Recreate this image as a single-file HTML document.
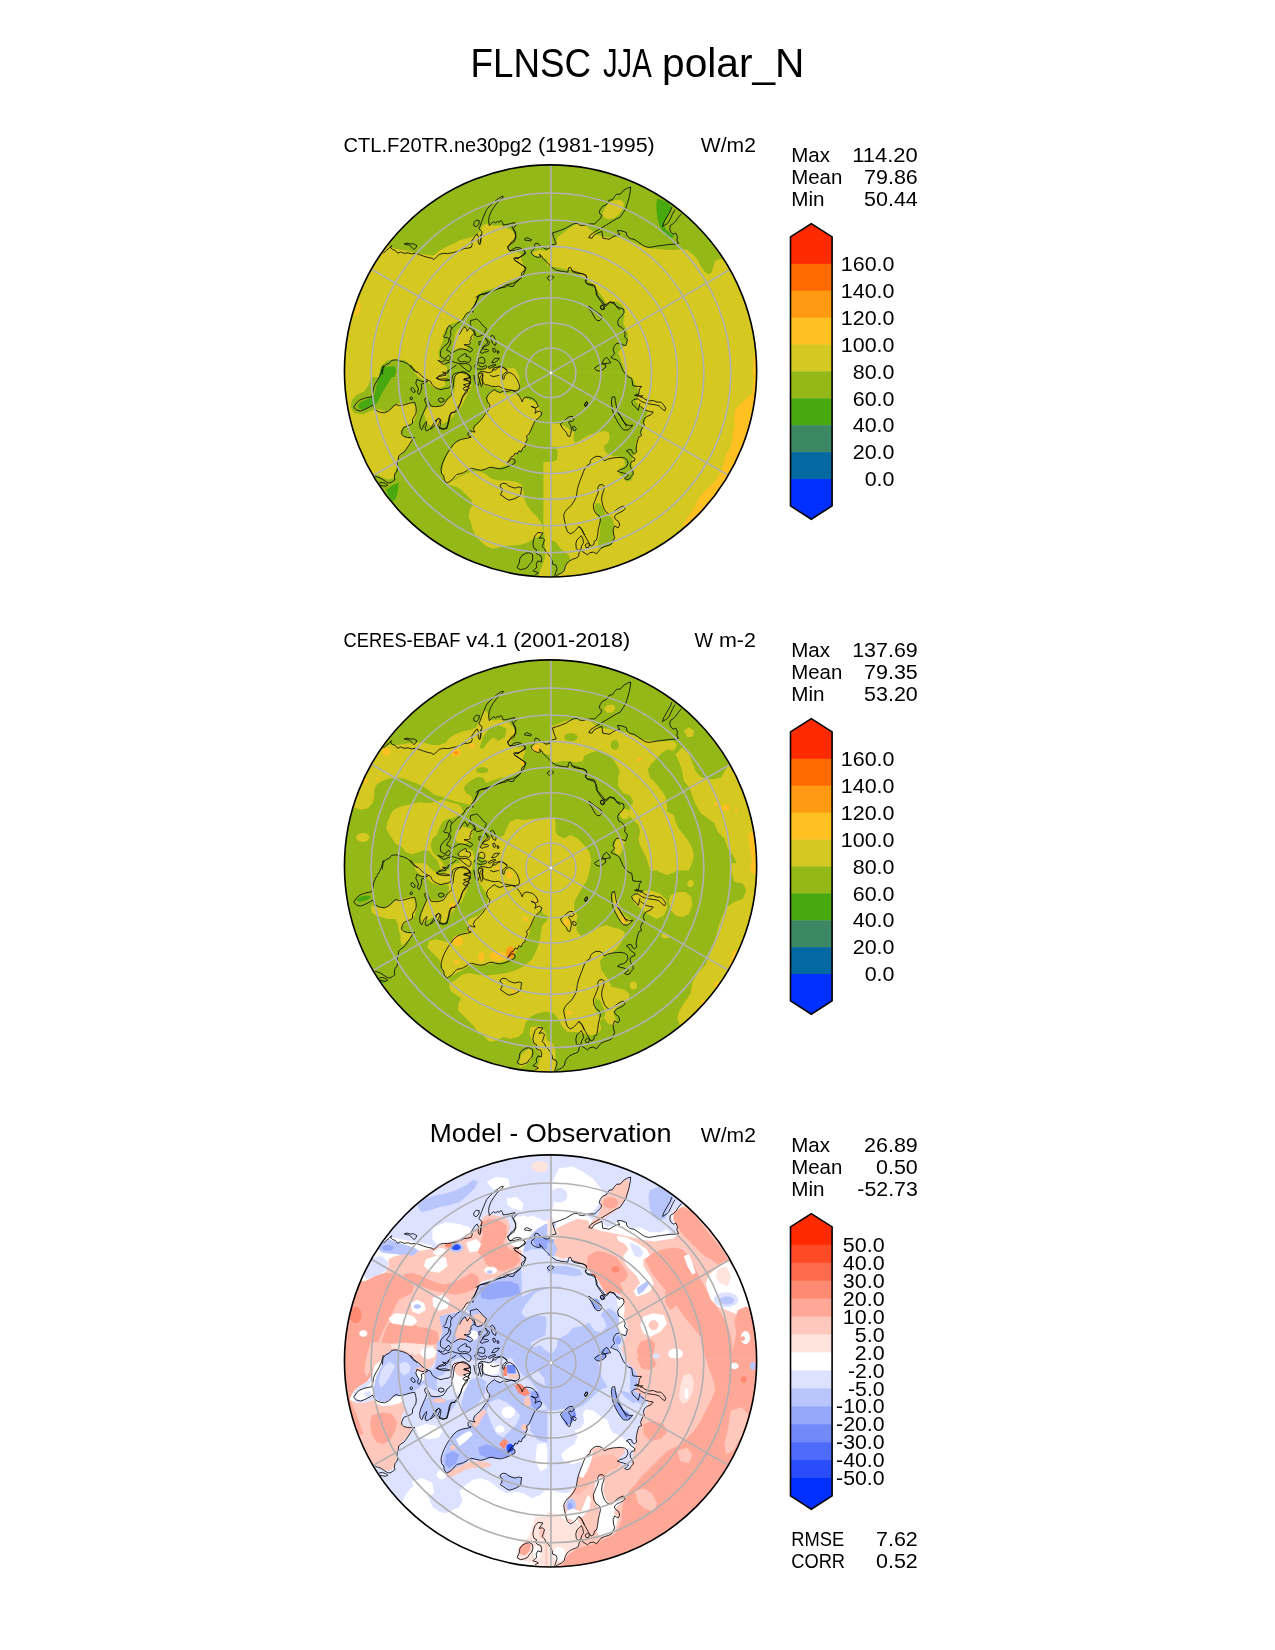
<!DOCTYPE html>
<html><head><meta charset="utf-8"><title>FLNSC JJA polar_N</title>
<style>
html,body{margin:0;padding:0;background:#fff;}
body{width:1275px;height:1650px;overflow:hidden;font-family:"Liberation Sans",sans-serif;}
svg{display:block;will-change:transform;}
svg text{font-family:"Liberation Sans",sans-serif;fill:#000;}
</style></head><body>
<svg width="1275" height="1650" viewBox="0 0 1275 1650">
<rect width="1275" height="1650" fill="#fff"/>
<defs>
<clipPath id="disc"><circle cx="550.55" cy="370.95" r="206.1"/></clipPath>

<g id="grid" fill="none" stroke="#b0b0b0" stroke-width="1.6">
<circle cx="550.95" cy="372.9" r="179.91"/>
<circle cx="550.95" cy="372.9" r="152.89"/>
<circle cx="550.95" cy="372.9" r="126.50"/>
<circle cx="550.95" cy="372.9" r="100.61"/>
<circle cx="550.95" cy="372.9" r="75.12"/>
<circle cx="550.95" cy="372.9" r="49.92"/>
<circle cx="550.95" cy="372.9" r="24.91"/>
<line x1="550.95" y1="372.9" x2="550.95" y2="602.90"/>
<line x1="550.95" y1="372.9" x2="750.14" y2="487.90"/>
<line x1="550.95" y1="372.9" x2="750.14" y2="257.90"/>
<line x1="550.95" y1="372.9" x2="550.95" y2="142.90"/>
<line x1="550.95" y1="372.9" x2="351.76" y2="257.90"/>
<line x1="550.95" y1="372.9" x2="351.76" y2="487.90"/>
<circle cx="550.95" cy="372.9" r="1.3" fill="#fff" stroke="none"/>
</g>
<g id="coast" fill="none" stroke="#0a0a0a" stroke-width="0.85" stroke-linejoin="round">
<path d="M383.4 253.3 L386.1 250.6 L388.9 248.4 L391.6 245.6 L390.7 247.8 L392.7 249.5 L395.5 250.6 L397.6 253.3 L400.4 251.9 L404.2 253.3 L408.1 252.8 L411.4 253.9 L415.8 253.3 L419.1 254.4 L423.5 256.1 L427.8 257.4 L431.1 258.0 L433.9 259.6 L436.6 256.9 L439.4 254.4 L443.2 253.3 L447.6 253.6 L452.0 252.8 L456.4 251.7 L460.8 250.3 L464.1 248.4 L467.9 248.2 L471.2 247.3 L472.3 244.5 L471.2 241.8 L473.4 238.5 L475.6 235.2 L477.3 234.1 L478.6 237.4 L478.1 241.2 L478.9 244.0 L480.0 244.5"/>
<path d="M404.2 243.8 L407.0 243.1 L410.3 244.0 L413.6 243.8 L416.9 245.6 L415.8 247.8 L414.1 249.7 L411.9 247.3 L409.2 245.1 L405.9 244.5 Z"/>
<path d="M382.3 374.6 L383.0 368.1 L385.6 364.8 L389.4 363.1 L391.6 360.4 L396.0 359.8 L399.8 360.9 L403.7 362.0 L407.5 363.7 L410.3 366.4 L413.0 369.7 L415.8 371.4 L417.4 373.0"/>
<path d="M473.8 222.9 L476.3 220.1 L479.3 220.7 L478.8 224.1 L476.3 226.8 L473.8 225.5 Z"/>
<path d="M480.0 243.1 L480.5 239.8 L481.3 236.0 L482.0 231.6 L480.0 230.0 L478.9 228.3 L480.0 226.1 L481.6 221.7 L483.8 216.2 L486.6 209.6 L490.4 205.3 L494.3 202.0 L498.1 198.7 L501.4 196.5 L503.3 196.3 L502.5 198.1 L499.2 200.9 L496.5 203.6 L493.7 207.5 L491.0 211.8 L489.3 216.2 L488.6 220.6 L489.3 225.6 L491.5 223.4 L493.7 221.7 L495.4 222.8 L497.6 221.5 L499.2 222.3 L500.9 220.4 L502.5 222.3 L503.1 225.0 L506.4 224.5 L509.6 223.9 L512.9 223.0 L514.9 222.6 L512.9 225.0 L511.8 227.0 L514.0 229.4 L515.7 232.7 L515.7 236.5 L514.0 240.4 L511.3 242.0 L509.6 244.8 L507.5 246.4 L508.3 249.2 L510.2 251.4 L512.9 249.0 L516.2 247.5 L520.1 247.9 L523.4 250.3 L525.6 252.5 L522.8 254.7 L520.1 256.9 L517.9 259.1 L516.8 257.4 L513.5 258.2 L515.7 260.7 L518.4 262.4 L521.2 264.6 L523.9 266.2 L526.1 267.8 L524.5 270.6 L521.7 272.8 L521.5 276.6 L519.5 279.4 L516.8 282.1 L514.6 283.8 L513.5 286.3 L510.2 286.5 L508.0 285.4 L505.3 287.1 L502.0 287.4 L498.7 288.7 L495.4 289.8 L492.1 291.5 L488.8 292.9 L484.9 294.2 L480.0 294.7 L475.6 297.5"/>
<path d="M524.1 239.3 L526.7 237.6 L529.4 238.7 L531.8 239.8 L530.5 240.9 L527.8 240.4 L525.0 240.2 Z"/>
<path d="M620.0 309.6 L617.3 307.9 L615.6 305.2 L614.0 302.4 L611.8 303.0 L609.6 301.9 L607.4 305.2 L605.2 306.3 L601.9 303.0 L599.1 299.1 L596.4 294.7 L595.8 289.8 L594.7 285.4 L592.0 284.3 L587.6 283.8 L585.4 282.1 L587.1 278.8 L586.0 275.5 L582.7 273.9 L578.8 272.8 L575.5 271.7 L572.0 270.6 L570.6 267.3 L568.7 267.8 L567.8 272.2 L564.6 271.7 L560.2 271.1 L555.8 270.0 L552.5 267.8 L550.3 265.6 L548.1 263.5 L545.9 261.3 L543.1 258.5 L541.5 255.8 L539.3 254.1 L540.9 256.9 L537.6 257.4 L534.4 256.3 L531.6 253.8 L531.1 251.4 L533.8 249.2 L535.5 247.5 L534.4 245.3 L535.5 243.1 L538.2 243.7 L539.8 245.9 L543.1 247.5 L545.9 249.2 L549.2 248.6 L550.1 245.9 L552.5 244.8 L556.3 243.9 L555.2 241.5 L553.6 237.1 L552.5 232.9 L556.9 231.6 L561.3 230.0 L565.6 228.3 L570.0 225.6 L574.4 223.4 L577.7 223.4 L579.4 225.0 L582.7 225.6 L586.5 224.5 L590.9 223.9 L594.7 223.9 L597.5 221.2 L600.8 217.9 L601.7 215.1 L599.1 212.9 L600.2 209.6 L602.4 206.4 L606.3 204.7 L609.0 200.3 L612.3 199.8 L614.5 196.5 L616.7 194.3 L620.0 194.1"/>
<path d="M620.0 217.3 L616.2 219.0 L611.8 221.7 L606.3 225.0 L600.8 228.3 L595.3 231.6 L590.9 234.4 L588.7 237.6 L592.0 238.2 L594.2 234.9 L598.6 232.7 L601.9 231.4 L602.4 234.9 L602.8 238.2 L606.3 238.7 L609.0 239.3 L611.8 237.6 L614.5 236.0 L617.3 234.9 L620.0 234.4"/>
<path d="M547.2 277.7 L549.2 276.1 L551.9 275.8 L553.8 277.2 L552.5 278.8 L549.7 280.5 L548.1 279.4 Z"/>
<path d="M600.2 306.3 L601.9 305.2 L604.1 306.8 L603.5 309.0 L601.3 309.4 Z"/>
<path d="M620.0 194.0 L620.9 193.6 L623.6 190.3 L627.5 188.1 L630.7 187.0 L630.2 192.0 L629.1 197.5 L627.5 202.9 L625.8 208.4 L623.1 212.8 L620.0 217.3"/>
<path d="M620.0 234.3 L618.1 232.6 L617.6 230.4 L622.0 230.9 L626.4 232.6 L626.9 235.9 L630.2 238.6 L634.0 239.2 L637.3 241.4 L641.2 244.1 L644.5 246.3 L648.3 247.4 L652.7 246.9 L657.1 246.0 L661.5 245.5 L665.9 244.9 L670.3 244.4 L675.8 244.1 L678.5 243.4 L676.9 240.3 L677.4 236.4 L675.8 233.1 L673.4 234.2 L670.8 232.0 L669.8 229.3 L670.3 225.5 L673.0 223.8 L675.8 221.1 L678.5 217.2 L681.3 213.7"/>
<path d="M671.9 207.1 L670.3 211.2 L668.1 215.0 L665.9 218.9 L663.7 222.7 L662.4 226.5 L664.2 225.5 L667.0 223.8 L669.2 221.1 L670.8 217.8 L672.3 214.5 L673.8 211.7 L675.0 209.7"/>
<path d="M571.4 270.0 L573.5 272.2 L577.9 273.3 L582.9 273.8 L586.2 275.5 L586.7 278.2 L585.1 281.0 L587.3 284.3 L591.1 285.4 L594.4 286.5 L596.6 290.9 L597.2 295.3 L599.9 298.5 L602.6 301.3 L604.8 305.1 L608.7 302.9 L610.9 301.8 L613.6 303.5 L616.4 306.2 L619.7 307.9 L623.5 309.0 L624.1 312.3 L621.9 316.1 L619.1 318.3 L617.5 321.6 L618.6 326.0 L621.3 327.1 L623.5 329.3 L625.2 333.1 L624.6 337.0 L627.4 339.2 L626.8 342.5 L625.7 345.8 L622.4 344.7 L619.7 343.0 L616.4 343.6 L614.2 346.3 L613.1 350.2 L614.7 353.5 L612.5 355.6 L610.9 357.3 L613.6 358.9 L616.9 360.0 L619.7 362.8 L621.3 366.6 L623.0 370.5 L625.2 373.8 L628.5 377.1 L631.7 378.2 L632.3 382.0 L632.8 385.8 L637.2 386.4 L641.6 386.4 L639.4 389.1 L638.9 393.0 L638.3 395.2 L634.5 395.2 L638.3 396.3 L642.7 395.7 L640.5 397.9"/>
<path d="M588.9 306.2 L591.1 307.9 L593.9 310.1 L597.7 312.8 L601.0 315.0 L602.1 317.8 L599.9 320.5 L597.2 320.7 L595.0 318.3 L593.3 315.0 L591.1 311.2 L588.4 307.9 Z"/>
<path d="M600.5 306.2 L602.1 304.9 L604.3 306.8 L604.8 308.7 L602.6 309.7 L600.8 308.4 Z"/>
<path d="M594.4 368.3 L597.7 365.8 L601.5 363.9 L605.4 364.4 L605.9 367.2 L602.6 369.7 L598.8 371.2 L596.1 370.1 Z"/>
<path d="M602.1 362.8 L604.3 358.9 L606.7 357.3 L608.9 359.8 L610.7 362.8 L607.0 363.3 L604.3 363.6 Z"/>
<path d="M584.5 404.5 L586.2 401.8 L587.6 402.3 L586.7 405.6 L585.1 406.2 Z"/>
<path d="M560.4 424.1 L563.1 421.9 L566.4 418.6 L569.7 416.4 L573.0 416.7 L574.1 419.7 L571.9 421.9 L569.7 420.8 L568.6 422.5 L570.8 425.7 L571.4 430.1 L570.8 433.4 L569.7 436.7 L567.5 435.6 L566.4 432.3 L564.2 430.1 L562.0 427.4 Z"/>
<path d="M572.5 426.8 L574.4 426.3 L576.3 428.5 L575.2 430.7 L573.3 430.1 Z"/>
<path d="M584.7 404.3 L586.5 402.1 L587.6 403.2 L586.5 406.0 L585.1 406.2 Z"/>
<path d="M612.0 397.2 L614.7 396.6 L615.3 400.5 L616.2 405.4 L617.5 410.4 L619.7 414.8 L622.4 419.7 L625.7 424.1 L629.6 425.7 L632.8 425.2 L630.6 427.9 L627.4 430.1 L623.5 429.9 L620.8 426.8 L618.0 422.5 L615.3 417.5 L613.1 412.6 L612.0 407.1 L611.4 401.6 Z"/>
<path d="M616.9 411.5 L620.8 417.0 L624.1 422.5 L626.8 426.8"/>
<path d="M636.1 393.9 L639.4 395.5 L640.5 396.1 L644.4 398.8 L648.2 401.0 L653.2 400.5 L657.0 402.1 L660.8 402.1 L663.6 404.9 L665.8 408.2 L664.7 410.9 L661.9 408.7 L659.2 406.0 L655.9 404.9 L652.1 404.3 L648.2 403.8 L644.4 402.7 L641.6 401.6 L637.8 398.8 L633.9 399.4 L631.7 401.6 L632.8 404.9 L636.1 407.6 L638.3 410.4 L640.0 403.2"/>
<path d="M640.5 406.0 L642.7 408.2 L646.0 410.4 L649.9 411.5 L653.2 412.0 L651.0 414.8 L647.1 416.4 L644.4 418.6 L643.3 422.5 L644.4 425.2 L642.2 427.9 L640.5 432.3 L641.6 435.6 L638.9 436.7 L637.8 440.0 L636.7 444.4 L636.1 448.8 L636.7 452.1 L634.5 453.7 L632.3 452.6 L631.7 449.9 L629.0 449.4 L626.3 451.0 L629.0 452.6 L630.6 455.4 L632.8 457.0 L635.0 458.7 L634.5 460.9 L631.7 461.4 L630.1 464.2 L630.6 467.5 L632.8 470.8 L633.4 474.1 L630.6 476.8 L629.6 479.0 L626.8 479.6 L624.6 478.5 L626.8 476.8 L628.5 475.2 L626.3 474.1 L623.5 473.0 L620.8 472.4 L617.5 471.3 L619.7 469.7 L623.5 468.6 L626.3 466.9 L627.9 463.6 L627.4 460.3 L624.6 458.1 L620.8 457.4 L616.4 457.6 L612.0 458.1 L607.6 459.2 L604.3 460.9 L602.6 458.1 L599.9 456.5 L596.1 456.3 L592.8 458.1 L590.6 460.3 L590.0 463.6 L587.3 465.3 L585.1 468.0 L583.4 471.9 L581.8 476.3 L580.1 480.6 L578.5 485.0 L577.4 489.4 L576.8 493.8 L575.7 498.2 L573.5 502.1 L571.4 505.4 L568.1 508.1 L565.3 511.4 L563.7 515.2 L564.2 519.1 L565.3 523.5 L565.9 527.3 L567.5 531.7 L570.3 533.9 L573.5 532.3 L576.3 529.5 L579.0 526.2 L581.2 528.4 L582.9 531.7 L584.5 535.0"/>
<path d="M579.1 526.9 L581.8 529.6 L584.0 534.0 L586.7 538.9 L589.5 543.9 L591.1 546.1 L593.9 544.4 L594.4 541.1 L596.6 540.0 L597.7 534.6 L598.3 529.1 L599.4 524.7 L600.5 519.7 L599.4 515.9 L596.1 513.7 L593.9 509.8 L593.3 504.9 L595.0 500.5 L596.6 496.7 L598.3 492.3 L597.7 487.9 L599.4 484.9 L602.1 484.6 L604.3 486.2 L603.8 490.1 L602.1 495.0 L601.6 500.0 L602.7 504.9 L604.3 509.3 L606.5 512.6 L609.8 514.2 L613.1 512.6 L616.9 509.3 L620.2 507.1 L623.5 506.0 L625.2 508.7 L623.0 510.9 L619.7 512.6 L616.4 514.2 L614.2 517.0 L615.8 519.7 L618.6 521.4 L619.7 525.2 L618.0 528.0 L614.7 525.8 L613.1 529.6 L613.6 534.0 L614.7 537.8 L613.1 541.1 L611.5 543.9 L608.2 545.5 L604.3 546.6 L601.0 548.3 L598.8 551.0 L596.6 553.8 L593.3 552.1 L590.0 552.7 L587.3 554.9 L585.1 553.2 L582.4 551.6 L581.3 549.4 L579.1 552.7 L578.5 556.5 L575.8 558.2 L572.5 559.3 L569.7 560.9 L567.0 563.1 L565.3 566.4 L564.2 570.8 L561.5 573.0 L558.2 574.6 L555.5 576.3"/>
<path d="M581.3 535.6 L579.1 537.8 L576.9 540.0 L575.8 543.9 L576.3 548.3 L578.0 550.5 L580.7 549.4 L581.8 545.5 L583.5 542.8 L582.9 538.9 Z"/>
<path d="M585.1 545.0 L587.3 543.3 L589.5 544.4 L588.9 547.2 L586.2 547.7 Z"/>
<path d="M553.8 576.3 L554.9 575.2 L556.0 571.9 L557.1 568.6 L556.0 565.3 L552.7 564.2 L552.2 560.9 L550.5 557.1 L548.3 554.3 L546.1 552.1 L544.5 548.8 L542.3 546.6 L543.4 543.3 L544.5 539.5 L542.3 537.8 L539.0 538.4 L541.2 535.6 L542.8 532.9 L537.9 532.4 L535.1 535.6 L533.5 540.0 L532.9 544.4 L534.0 548.3 L536.8 549.9 L535.1 552.1 L537.3 554.3 L540.6 555.4 L541.7 558.7 L541.2 562.0 L537.9 560.9 L536.2 564.2 L536.8 567.5 L534.6 569.1 L532.9 570.8 L536.8 571.9 L538.4 573.0 L535.1 574.6"/>
<path d="M517.0 567.5 L519.2 563.1 L519.8 558.7 L522.0 555.4 L525.8 553.2 L529.6 552.7 L532.4 554.3 L532.9 558.2 L531.8 562.0 L529.1 564.7 L527.5 567.5 L523.6 569.1 L520.3 569.7 Z"/>
<path d="M493.1 390.4 L490.4 392.6 L487.6 395.3 L486.5 398.6 L487.6 401.9 L489.8 404.6 L489.3 407.9 L487.6 411.2 L484.9 414.5 L482.2 418.4 L479.4 421.7 L476.7 423.9 L474.5 426.1 L473.4 429.4 L475.0 432.1 L472.3 431.5 L469.5 430.5 L467.9 433.2 L468.4 435.9 L471.2 437.0 L467.9 438.1 L464.0 438.7 L460.2 439.8 L456.9 441.4 L453.6 444.2 L450.9 448.0 L448.1 451.9 L445.9 455.7 L443.7 460.1 L442.1 464.5 L441.0 468.9 L441.5 473.3 L443.7 476.0 L444.3 479.9 L446.5 483.2 L449.8 481.5 L452.5 479.3 L454.7 476.6 L456.9 474.4 L460.2 473.8 L463.5 472.7 L466.2 471.1 L468.4 469.4 L471.7 468.3 L476.1 469.4 L480.5 470.3 L484.9 469.4 L488.2 467.8 L492.0 467.2 L495.9 468.3 L500.3 468.9 L504.7 467.8 L509.1 466.1 L512.4 464.5 L515.1 462.8 L514.6 459.6 L511.8 458.5 L509.6 461.2 L507.4 462.8 L509.6 459.6 L511.3 456.8 L514.0 455.7 L515.1 453.0 L517.3 454.1 L518.9 450.8 L521.1 451.9 L522.8 448.0 L525.0 446.9 L525.5 443.1 L527.2 439.8 L526.6 435.9 L528.8 434.3 L530.5 431.0 L532.1 427.2 L533.8 423.3 L535.4 420.6 L538.2 418.4 L540.9 415.6 L542.0 412.9 L539.8 411.2 L537.1 411.8 L534.9 413.4 L536.0 410.1 L534.3 407.4 L531.0 406.3 L535.4 407.9 L538.2 406.8 L537.1 403.5 L535.4 400.8 L532.7 398.6 L529.4 397.5 L526.1 397.0 L523.3 398.6 L522.2 401.9 L521.1 399.2 L519.5 396.4 L517.3 393.7 L515.1 391.5 L511.3 390.4 L506.9 391.5 L503.6 390.9 L500.3 392.6 L497.0 391.5 L494.8 389.8 Z"/>
<path d="M500.3 484.8 L503.0 483.2 L506.3 483.7 L508.5 485.9 L511.3 487.0 L515.1 488.1 L518.4 487.0 L521.7 487.6 L521.1 491.4 L520.6 495.2 L517.3 497.4 L513.5 499.1 L509.1 500.2 L505.8 498.5 L503.0 496.3 L500.3 494.7 L501.9 491.9 L502.5 488.6 L500.3 487.0 Z"/>
<path d="M469.5 375.0 L470.6 378.3 L470.1 382.7 L468.4 386.0 L465.1 387.1 L462.9 388.7 L465.1 390.4 L467.9 389.3 L466.8 392.6 L464.0 395.3 L461.8 398.6 L460.7 402.5 L459.1 406.8 L457.5 410.1 L455.3 412.3 L452.0 412.3 L450.3 415.6 L449.2 420.0 L448.1 424.4 L447.0 428.3 L443.2 429.4 L439.3 428.3 L440.4 424.4 L441.0 420.6 L438.8 418.4 L436.6 420.0 L435.5 423.9 L433.3 427.2 L430.0 429.4"/>
<path d="M473.9 375.0 L474.5 379.4 L475.6 383.8 L478.3 385.4 L479.4 381.6 L480.0 377.2 L481.6 375.0"/>
<path d="M478.9 373.4 L481.0 371.4 L485.1 371.9 L489.1 372.9 L492.2 371.4 L493.2 368.3 L496.3 367.3 L500.4 366.3 L503.4 367.3 L506.0 369.8 L507.5 371.4 L504.9 372.9 L502.9 374.9 L502.4 378.5 L503.9 379.5 L504.4 376.5 L506.5 373.4 L509.5 372.4 L512.6 373.9 L515.1 376.5 L517.2 379.5 L518.7 383.1 L519.7 386.7 L518.7 389.7 L515.6 390.7 L511.6 390.2 L508.5 389.7 L505.4 389.2 L501.4 387.7 L498.3 386.2 L495.3 386.7 L491.2 386.2 L488.1 385.1 L485.1 384.6 L483.0 382.6 L482.5 378.5 L483.0 374.9 L481.0 373.4 Z"/>
<path d="M490.2 375.4 L493.2 376.7 L496.3 376.0 L499.3 375.2"/>
<path d="M383.4 365.0 L382.3 368.8 L381.2 372.7 L379.5 376.5 L377.3 380.4 L375.1 384.2 L373.5 388.1 L372.9 392.5 L371.8 396.8 L368.0 397.4 L363.6 398.5 L359.8 400.1 L356.5 402.9 L353.7 407.3 L356.5 410.0 L360.3 411.1 L363.6 410.0 L366.9 408.4 L370.2 406.7 L372.9 405.1 L374.6 408.9 L377.3 411.1 L380.6 412.4 L384.5 412.8 L388.3 411.1 L391.1 408.9 L393.3 406.2 L396.0 404.5 L399.3 405.6 L403.1 405.1 L407.0 404.0 L410.8 402.9 L414.7 402.3 L415.8 406.2 L416.3 410.0 L415.8 413.9 L414.1 416.6 L412.5 419.4 L412.5 423.2 L410.3 424.8 L407.0 425.9 L403.7 427.6 L402.0 430.9 L401.5 434.2 L403.7 436.4 L407.5 437.5 L411.4 437.7 L414.7 437.5 L411.9 440.2 L410.3 443.0 L408.1 446.3 L405.9 449.6 L403.7 452.3 L400.9 453.9 L398.7 456.1 L398.2 460.0 L397.1 463.8 L397.6 467.7 L397.1 471.0 L394.9 473.7 L394.4 477.0 L394.9 479.7 L392.7 481.4 L390.0 483.0 L387.2 482.5 L383.9 480.3 L380.6 478.1 L377.3 477.0 L375.1 476.1"/>
<path d="M379.0 483.0 L382.3 482.5 L385.6 483.6 L387.8 485.2 L385.6 486.3 L382.3 485.8 L379.5 485.2"/>
<path d="M410.8 388.6 L412.5 387.5 L414.7 389.7 L415.2 391.9 L413.4 392.5 L411.4 390.8 Z"/>
<path d="M410.1 397.7 L411.4 396.8 L412.7 397.9 L411.9 399.6 L410.3 399.3 Z"/>
<path d="M410.3 365.0 L413.0 368.3 L415.2 371.0 L418.5 372.7 L421.3 375.4 L424.0 378.2 L427.3 379.8 L430.6 381.5 L432.2 384.8 L434.4 387.0 L437.7 388.6 L441.0 389.7 L444.3 388.6 L448.2 388.1 L450.9 386.4 L451.5 383.1 L450.4 380.4 L447.6 379.3 L443.8 378.7 L439.9 379.3 L436.6 378.2 L438.8 376.0 L442.7 374.3 L446.0 372.7 L448.2 370.5 L450.9 368.8 L453.6 367.2 L456.4 365.0"/>
<path d="M416.9 379.3 L419.1 380.4 L421.8 381.5 L424.6 381.5 L427.8 380.9 L424.6 383.1 L421.3 384.2 L421.8 387.5 L420.7 391.4 L419.1 394.6 L417.4 392.5 L418.5 388.6 L416.9 385.9 L415.8 383.1 Z"/>
<path d="M424.6 399.0 L426.2 397.9 L427.8 400.1 L429.5 403.4 L431.1 406.2 L435.5 406.7 L439.9 406.2 L443.2 405.1 L445.4 402.3 L447.1 399.0 L449.8 396.8 L452.0 394.6 L451.5 391.4 L453.1 387.0 L453.6 382.6 L454.2 378.2 L455.8 374.9 L459.1 372.7 L463.0 371.6 L466.3 372.7 L469.0 374.9 L470.1 377.6 L467.4 378.7 L464.1 379.3 L467.9 380.4 L470.7 382.6 L467.4 383.7 L463.5 384.8 L466.3 386.4 L469.6 388.1 L466.8 389.7 L465.2 392.5 L463.0 395.7 L461.9 399.0 L460.8 402.9 L458.6 406.2 L456.4 409.5 L454.2 412.2 L450.9 412.8 L449.3 416.1 L448.7 419.9 L447.6 424.3 L446.5 428.1 L443.2 428.7 L439.9 427.6 L437.7 425.4 L439.4 422.1 L440.5 419.4 L438.8 418.3 L436.1 419.9 L433.9 423.2 L431.7 427.0 L428.9 429.8 L426.2 430.9 L425.1 428.1 L426.2 424.8 L426.7 421.5 L424.6 423.7 L422.9 427.0 L421.8 429.8 L420.2 428.1 L419.6 423.2 L420.7 418.8 L422.4 415.0 L424.0 411.1 L425.6 407.8 L426.7 404.5 L425.1 401.8 Z"/>
<path d="M438.3 399.0 L441.0 397.9 L443.8 399.0 L443.8 401.2 L441.0 402.3 L438.8 401.2 Z"/>
<path d="M480.0 244.5 L481.0 240.6 L480.7 234.7"/>
<path d="M472.9 309.8 L474.6 305.6 L476.6 301.3 L478.3 296.6 L481.3 294.3 L487.2 292.6 L492.3 291.2 L497.4 288.7 L502.4 287.5 L506.6 284.8 L512.5 283.6 L516.8 281.1 L520.5 278.6 L523.5 274.4 L525.5 269.3 L523.5 265.9 L519.3 263.4 L514.2 260.0 L515.1 258.7 L521.0 256.7 L525.2 254.1 L524.8 251.1 L520.1 249.1 L513.4 250.7 L509.2 250.4 L508.0 247.4 L510.3 244.3 L513.7 242.3 L515.9 238.1 L515.1 233.0 L513.0 228.8 L515.1 226.3 L517.6 223.8"/>
<path d="M478.2 296.0 L478.0 298.5 L476.3 300.8 L475.4 303.4 L474.0 305.9 L471.9 308.7 L473.3 312.1 L470.7 311.2 L468.7 312.9 L467.2 312.8 L465.3 315.2 L463.9 317.5 L462.5 319.6 L460.2 321.4 L457.4 323.2 L454.9 325.6 L453.2 327.4 L451.6 328.6 L450.9 326.5 L449.3 325.3 L447.7 327.6 L446.5 330.9 L445.6 334.1 L443.6 336.1 L444.7 337.8 L447.2 337.3 L448.9 339.2 L448.6 341.9 L447.0 344.1 L444.7 345.6 L442.7 347.9 L440.8 350.5 L440.3 353.9 L440.8 356.6 L442.6 357.8 L444.6 358.7 L446.1 358.0 L447.7 355.9 L448.9 355.3 L450.5 357.6 L449.6 359.9 L447.7 360.9 L445.8 359.7 L444.4 360.4 L442.6 362.0 L440.5 361.3 L437.8 360.4 L439.8 361.6 L441.2 363.1 L443.3 364.3 L445.8 363.8 L447.9 362.7 L450.0 362.0 L452.5 361.6 L455.3 362.5 L458.8 363.4 L462.4 363.8 L465.9 363.4 L468.4 364.3 L470.3 365.7 L471.2 367.6 L470.7 370.0 L469.3 371.7 L467.3 370.7 L465.2 369.1 L463.1 367.3 L460.9 365.5 L459.2 363.9"/>
<path d="M451.6 328.6 L450.5 331.3 L450.9 335.5 L449.3 338.4 L450.9 341.9 L449.6 345.4 L447.2 348.6 L446.7 350.4 L449.3 351.1 L450.9 353.5 L453.2 352.5 L455.3 351.1 L457.8 349.6 L460.2 348.9 L463.1 349.1 L465.9 349.8 L468.0 350.7 L469.8 352.1 L471.5 351.4 L472.6 349.6 L471.2 347.9 L469.1 346.8 L466.6 345.8 L464.1 344.7 L466.6 344.6 L469.1 344.7 L470.5 342.6 L469.4 341.2 L471.2 339.1 L470.7 337.3 L472.2 335.5 L473.6 334.1 L475.2 335.2"/>
<path d="M459.2 334.7 L460.6 332.4 L462.0 329.9 L463.8 327.4 L465.2 326.9 L466.6 329.5 L467.3 331.3 L468.7 328.8 L470.1 327.6 L471.9 329.5 L473.6 331.6 L475.1 334.1"/>
<path d="M470.5 320.6 L474.4 319.6 L476.8 318.9 L478.9 320.7 L481.1 323.2 L482.8 325.6 L484.8 327.1 L486.5 328.5 L485.6 330.9 L484.6 332.7 L482.8 334.8 L480.0 336.2 L477.2 336.6 L475.2 335.2 L474.9 332.0 L473.6 329.2 L471.2 326.4 L470.3 323.5 Z"/>
<path d="M490.6 336.2 L492.4 335.2 L494.1 336.6 L495.2 339.8 L496.2 342.6 L495.5 345.4 L493.4 344.4 L492.0 341.9 L491.2 339.1 Z"/>
<path d="M492.7 348.6 L494.5 348.2 L495.5 350.4 L494.8 352.5 L493.4 351.8 Z"/>
<path d="M496.9 350.7 L498.7 351.1 L499.1 352.8 L497.6 353.5 Z"/>
<path d="M485.3 338.0 L487.4 339.8 L489.5 342.2 L488.8 344.7 L486.4 345.8 L483.9 346.8 L482.5 348.6 L484.6 349.3 L487.4 349.5 L488.8 350.7 L487.1 351.8 L484.6 352.1 L482.8 353.2 L480.7 352.8 L479.9 351.8 L481.4 350.7 L482.3 348.8 L483.0 346.8 L484.6 345.4 L486.7 344.0 L487.8 342.2 L486.4 340.1 Z"/>
<path d="M478.9 341.9 L480.7 341.2 L481.4 342.9 L480.4 345.4 L478.9 344.7 Z"/>
<path d="M480.0 357.4 L482.8 357.3 L484.6 358.8 L484.9 361.6 L484.2 363.4 L481.4 363.1 L478.6 362.7 L477.2 363.8 L478.9 365.5 L480.7 366.6 L482.8 366.9 L485.3 365.5 L486.9 366.6 L485.6 368.7 L482.8 369.1 L480.0 369.4 L477.2 368.7 L475.1 367.3 L474.7 365.5 L476.1 363.8 L477.9 362.4 L478.2 359.9 Z"/>
<path d="M494.5 358.5 L499.4 358.1 L497.6 360.6 L494.8 362.4 L491.6 362.7 L493.1 360.6 Z"/>
<path d="M488.8 366.6 L491.3 365.5 L494.1 364.5 L495.9 364.8 L494.1 366.2 L491.6 367.3 L489.5 368.7 L488.5 368.0 Z"/>
<path d="M457.8 358.8 L459.2 357.4 L460.9 356.0 L463.1 354.6 L465.2 353.5 L466.9 354.6 L465.9 356.4 L468.0 356.7 L470.1 357.4 L470.8 359.2 L470.1 361.3 L468.7 362.4 L466.6 362.0 L464.5 361.3 L462.4 362.0 L460.2 361.6 L458.5 360.6 Z"/>
<path d="M452.5 375.8 L453.9 374.0 L456.7 372.9 L460.2 372.4 L463.8 372.9 L466.6 374.0 L468.7 375.8 L470.1 377.9 L467.3 378.2 L464.5 378.6 L463.4 379.6 L465.9 380.4 L468.7 381.1 L470.5 382.8 L469.4 384.9 L468.4 387.1"/>
<path d="M452.5 375.8 L452.1 378.6 L451.4 382.1 L451.1 387.1"/>
<path d="M478.9 372.9 L478.2 375.8 L478.9 378.6 L480.0 381.4 L480.7 384.2 L481.4 387.1"/>
<path d="M481.4 372.6 L482.8 373.6 L482.5 376.5 L481.8 379.3 L482.5 382.1 L482.8 385.6"/>
<path d="M436.2 378.2 L439.1 376.5 L442.6 375.8 L446.1 375.1 L444.0 373.3 L442.6 371.9 L444.7 372.6 L447.2 373.6 L448.9 370.8 L449.6 369.4"/>
<path d="M436.2 378.2 L439.1 379.6 L442.6 380.4 L446.1 380.7 L449.3 380.4"/>
<path d="M492.7 370.1 L495.5 369.8 L497.6 368.0 L499.8 366.9 L502.6 367.3 L505.4 368.7 L507.5 370.1"/>
</g>
</defs>
<text y="77.00" font-size="39.75" xml:space="preserve"><tspan x="470.58" textLength="120.51" lengthAdjust="spacingAndGlyphs">FLNSC</tspan> <tspan x="603.01" textLength="47.12" lengthAdjust="spacingAndGlyphs">JJA</tspan> <tspan x="662.05" textLength="142.37" lengthAdjust="spacingAndGlyphs">polar_N</tspan></text>
<g transform="translate(0,0)">
<g clip-path="url(#disc)">
<circle cx="550.55" cy="370.95" r="206.1" fill="#94b817"/>
<path d="M551.0 372.7 L764.0 372.7 L764.0 585.0 L551.0 585.0 Z" fill="#d4c821"/>
<path d="M388.6 246.0 L395.3 248.7 L405.5 250.4 L413.9 252.4 L425.7 254.5 L433.3 255.8 L439.2 250.7 L445.9 247.0 L454.4 243.2 L459.4 240.3 L466.2 238.6 L472.9 236.4 L478.0 233.5 L480.5 229.7 L483.0 225.5 L486.4 223.4 L489.8 224.6 L494.8 225.8 L499.9 225.1 L504.1 226.8 L508.3 228.5 L512.5 230.8 L515.1 234.7 L514.7 239.8 L511.7 243.2 L508.7 247.4 L511.7 250.7 L517.6 252.4 L521.8 254.5 L521.0 259.2 L522.7 263.4 L525.2 267.6 L523.5 272.7 L519.3 276.9 L514.2 279.8 L506.6 283.1 L499.9 285.8 L491.5 288.9 L483.0 291.6 L478.0 294.6 L475.9 300.5 L473.8 305.6 L469.5 310.6 L466.2 314.8 L463.1 319.6 L456.9 321.9 L450.6 324.1 L446.3 328.0 L443.6 333.4 L443.2 341.0 L440.9 345.5 L438.5 351.9 L439.2 358.3 L443.9 363.4 L447.3 368.5 L445.9 373.0 L445.9 377.2 L338.0 377.2 L338.0 225.5 Z" fill="#d4c821"/>
<path d="M381.0 377.2 L382.2 365.8 L386.6 360.7 L393.6 359.5 L404.6 360.0 L410.5 364.6 L415.9 370.1 L418.1 377.2 Z" fill="#94b817"/>
<path d="M383.9 377.2 L384.9 368.5 L395.3 366.8 L396.3 370.8 L394.5 377.2 Z" fill="#48a810"/>
<path d="M354.0 314.8 L356.5 306.4 L359.1 299.7 L360.8 304.7 L359.9 310.6 L357.4 314.8 Z" fill="#ffc022"/>
<path d="M531.9 252.4 L538.7 249.9 L545.4 250.4 L550.8 252.4 L555.5 255.0 L555.5 259.2 L547.1 259.2 L540.4 256.7 L534.5 255.8 Z" fill="#d4c821"/>
<path d="M460.6 327.5 L465.7 326.5 L470.8 329.6 L473.8 333.6 L472.8 338.7 L469.8 342.8 L467.7 347.9 L463.6 348.9 L459.6 347.9 L455.5 350.0 L452.9 347.9 L454.0 340.8 L455.5 333.6 L457.5 329.6 Z" fill="#d4c821"/>
<path d="M478.9 373.4 L483.0 371.9 L491.2 371.4 L495.3 368.3 L501.4 366.8 L506.5 369.3 L511.6 372.9 L516.7 377.5 L519.7 381.6 L520.2 386.7 L517.7 390.7 L511.6 391.8 L505.4 390.7 L500.4 388.7 L495.3 386.7 L489.1 385.6 L483.0 384.6 L479.4 381.6 L478.4 377.5 Z" fill="#d4c821"/>
<path d="M338.0 366.6 L374.3 366.6 L374.3 370.0 L371.7 376.7 L368.4 385.2 L364.1 391.6 L356.5 395.0 L352.3 399.5 L350.6 406.3 L354.0 413.0 L363.3 414.2 L371.7 410.5 L378.5 409.1 L386.1 412.2 L392.0 407.9 L397.0 403.7 L405.5 403.7 L412.2 402.0 L415.9 406.3 L416.9 413.8 L414.2 420.6 L409.7 424.8 L402.9 427.3 L400.4 431.6 L402.9 436.6 L410.5 437.8 L412.2 440.8 L408.8 445.9 L405.5 450.1 L401.2 454.3 L397.9 458.5 L397.0 464.4 L395.3 471.2 L393.6 477.9 L388.6 479.6 L383.5 477.9 L378.5 475.4 L374.3 473.7 L338.0 473.7 Z" fill="#d4c821"/>
<path d="M381.0 366.6 L395.3 366.6 L392.0 376.7 L386.9 385.2 L381.8 393.6 L378.5 400.4 L375.9 404.6 L371.7 406.3 L363.3 409.6 L359.1 408.8 L357.9 405.4 L360.8 402.0 L368.4 398.7 L374.3 395.3 L375.9 386.9 L378.5 378.4 Z" fill="#48a810"/>
<path d="M454.4 375.1 L459.4 372.5 L466.2 374.2 L470.4 380.1 L471.2 386.9 L467.8 393.6 L464.5 400.4 L461.1 407.1 L456.0 412.2 L451.0 418.9 L445.9 422.3 L439.2 425.6 L432.4 426.5 L427.4 424.0 L425.7 418.9 L424.0 413.8 L426.5 408.8 L432.4 406.3 L439.2 406.3 L445.9 402.0 L451.0 397.0 L454.4 390.2 L455.2 381.8 Z" fill="#d4c821"/>
<path d="M413.9 368.3 L445.9 368.3 L447.6 375.1 L444.2 380.1 L445.9 385.2 L439.2 388.5 L432.4 386.9 L427.4 381.8 L420.6 378.4 L415.6 374.2 Z" fill="#d4c821"/>
<path d="M478.8 373.4 L484.7 368.3 L515.1 368.3 L519.3 376.7 L520.1 385.2 L515.1 390.2 L506.6 391.1 L498.2 388.5 L489.8 386.9 L483.0 385.2 L478.8 380.1 Z" fill="#d4c821"/>
<path d="M493.1 390.2 L499.9 391.9 L506.6 393.6 L515.1 392.8 L520.1 397.0 L526.9 398.7 L533.6 401.2 L538.7 406.3 L541.2 413.0 L539.5 417.2 L535.3 420.6 L531.9 427.3 L529.4 434.1 L526.9 440.8 L525.2 447.6 L520.1 450.9 L515.1 456.0 L511.7 461.1 L506.6 465.3 L499.9 467.5 L493.1 467.8 L486.4 469.5 L479.7 470.3 L472.9 469.5 L467.8 471.2 L462.8 474.6 L456.0 477.9 L449.3 482.1 L445.9 483.0 L443.4 477.9 L441.7 471.2 L443.4 464.4 L445.9 457.7 L449.3 450.9 L454.4 444.2 L459.4 440.0 L466.2 437.5 L471.2 434.9 L472.9 429.0 L478.0 424.0 L483.0 417.2 L487.2 410.5 L488.9 403.7 L487.2 398.7 L489.8 393.6 Z" fill="#d4c821"/>
<path d="M445.9 483.0 L456.0 479.3 L467.8 472.9 L472.9 471.2 L479.7 471.2 L486.4 474.6 L491.5 478.8 L498.2 480.5 L506.6 480.5 L515.1 481.3 L521.8 484.7 L523.5 491.4 L524.3 498.2 L526.9 504.9 L531.9 511.7 L537.0 516.7 L540.4 521.8 L542.9 526.8 L543.7 531.9 L540.4 536.1 L533.6 538.6 L528.6 542.0 L521.8 544.5 L513.4 545.4 L503.3 546.2 L493.1 548.8 L486.4 546.2 L481.3 542.0 L476.3 536.9 L472.9 530.2 L471.2 523.5 L468.7 516.7 L469.5 510.0 L472.9 504.9 L471.2 499.8 L466.2 494.8 L461.1 489.7 L456.0 486.4 L449.3 484.7 Z" fill="#d4c821"/>
<path d="M543.4 461.9 L555.5 461.9 L555.5 585.0 L538.7 585.0 L539.5 572.4 L542.9 563.9 L545.4 555.5 L544.6 538.6 L543.4 521.8 Z" fill="#d4c821"/>
<path d="M386.1 489.7 L393.6 484.7 L398.7 482.6 L397.9 491.4 L395.3 499.8 L392.0 501.5 L388.6 496.5 Z" fill="#48a810"/>
<path d="M555.7 245.7 L557.4 237.3 L564.2 232.2 L570.9 227.1 L577.7 223.8 L585.3 225.5 L589.5 228.8 L594.5 232.2 L597.9 234.7 L603.0 236.4 L609.7 237.3 L616.5 237.3 L623.2 238.1 L629.9 240.6 L636.7 244.0 L643.4 246.5 L650.2 248.2 L658.6 249.1 L667.0 249.9 L675.5 249.9 L682.2 249.1 L687.3 249.9 L692.3 254.1 L697.4 259.2 L700.8 265.9 L704.1 271.0 L708.4 274.4 L711.7 272.7 L713.4 265.9 L715.1 260.9 L719.3 259.2 L723.5 259.2 L764.0 259.2 L764.0 375.5 L624.9 375.5 L624.9 373.0 L623.2 365.4 L619.8 357.0 L618.1 351.9 L623.2 346.9 L627.4 341.8 L628.3 335.1 L625.7 328.3 L623.2 323.3 L624.0 316.5 L624.9 309.8 L621.5 304.7 L616.5 301.3 L611.4 301.3 L607.2 304.7 L604.6 301.3 L602.1 296.3 L597.9 291.2 L594.5 286.2 L589.5 281.9 L585.3 278.6 L579.4 274.4 L572.6 271.0 L565.9 269.3 L557.4 267.6 L549.0 265.9 L547.3 265.9 L547.3 247.4 Z" fill="#d4c821"/>
<path d="M604.6 208.6 L608.0 203.5 L614.8 200.2 L621.5 200.2 L624.0 203.5 L623.2 208.6 L619.8 213.6 L614.8 217.9 L608.0 219.6 L603.8 217.0 L602.6 212.8 Z" fill="#d4c821"/>
<path d="M656.9 198.5 L667.0 201.8 L672.1 206.9 L668.7 213.6 L665.4 220.4 L663.7 225.5 L667.0 230.5 L673.8 235.6 L672.9 238.1 L667.0 237.3 L662.0 230.5 L658.6 223.8 L656.9 215.3 L656.3 206.9 Z" fill="#48a810"/>
<path d="M753.9 353.6 L758.1 351.9 L758.1 375.5 L753.0 375.5 Z" fill="#ffc022"/>
<path d="M551.0 372.7 L624.9 372.7 L628.3 375.1 L633.3 380.1 L636.7 386.9 L639.2 395.3 L635.8 401.2 L640.1 406.3 L647.7 411.3 L646.0 418.1 L642.6 425.6 L641.4 432.4 L637.5 437.5 L635.8 444.2 L636.7 450.9 L633.3 456.0 L631.3 461.9 L633.0 468.7 L633.7 475.4 L631.3 480.5 L626.6 482.1 L623.2 477.1 L619.0 474.2 L620.7 468.7 L625.2 464.4 L624.0 459.0 L619.8 456.8 L613.9 456.3 L608.0 454.3 L604.6 450.9 L603.8 445.9 L608.0 442.5 L609.7 437.5 L608.9 432.4 L604.6 430.7 L597.9 432.4 L591.2 434.1 L584.4 437.5 L579.4 440.8 L574.3 442.5 L573.5 437.5 L574.3 432.4 L569.2 429.0 L564.2 425.6 L559.1 424.0 L554.1 423.6 L551.0 423.6 Z" fill="#94b817"/>
<path d="M595.4 503.2 L599.6 503.2 L603.0 508.3 L606.3 515.0 L611.4 516.7 L613.9 523.5 L613.1 531.9 L613.9 540.3 L611.4 545.4 L606.3 547.1 L599.6 548.8 L597.9 543.7 L599.6 535.3 L600.4 526.8 L599.6 520.1 L596.2 513.3 L594.5 508.3 Z" fill="#94b817"/>
<path d="M551.0 540.3 L555.7 542.0 L559.1 547.1 L564.2 552.1 L569.2 555.5 L570.1 560.6 L565.9 563.9 L564.2 570.7 L559.1 574.9 L551.0 577.4 Z" fill="#94b817"/>
<path d="M551.0 445.9 L555.7 446.7 L557.8 452.6 L556.6 460.2 L551.0 461.9 Z" fill="#94b817"/>
<path d="M764.0 351.5 L756.1 351.5 L753.4 364.9 L753.7 380.1 L752.2 393.6 L746.3 398.7 L740.4 403.7 L735.3 409.6 L733.7 418.1 L734.5 425.6 L732.8 434.1 L732.0 442.5 L729.4 449.3 L725.7 455.2 L724.4 461.9 L721.8 468.7 L719.7 474.6 L715.1 481.3 L708.4 487.2 L702.5 493.9 L698.2 499.8 L694.9 506.6 L691.5 512.5 L686.4 519.2 L683.1 526.0 L689.0 531.9 L764.0 531.9 Z" fill="#ffc022"/>
<use href="#coast"/>
<use href="#grid"/>
</g>
<circle cx="550.55" cy="370.95" r="206.1" fill="none" stroke="#000" stroke-width="1.6"/>
</g>
<g transform="translate(0,495)">
<g clip-path="url(#disc)">
<circle cx="550.55" cy="370.95" r="206.1" fill="#94b817"/>
<path d="M382.2 253.3 L388.6 249.9 L397.0 249.9 L408.8 248.2 L417.3 247.4 L425.7 248.2 L432.4 249.9 L439.2 249.9 L445.9 247.4 L450.1 242.3 L456.0 238.9 L462.8 236.4 L471.2 234.7 L476.3 232.2 L479.7 225.5 L482.2 218.7 L484.7 215.3 L488.1 217.9 L488.9 223.8 L492.3 225.5 L498.2 224.6 L504.1 225.5 L509.2 228.0 L513.4 232.2 L515.1 237.3 L513.4 242.3 L510.0 247.4 L511.7 251.6 L518.4 252.4 L524.3 252.4 L525.2 257.5 L522.7 262.6 L524.3 267.6 L523.5 272.7 L519.3 276.0 L515.1 278.6 L506.6 281.9 L499.9 282.8 L493.1 285.3 L486.4 287.8 L483.0 282.8 L478.0 281.9 L472.9 284.5 L467.8 287.8 L463.6 292.9 L466.2 298.0 L471.2 301.3 L472.9 306.4 L469.5 309.8 L462.8 308.1 L456.0 306.4 L447.6 303.9 L440.9 301.3 L434.1 299.7 L429.1 295.4 L423.2 291.2 L417.3 288.7 L410.5 286.2 L403.8 283.6 L397.0 282.8 L388.6 283.6 L381.8 286.2 L376.8 289.5 L374.3 294.6 L374.3 301.3 L372.6 308.1 L368.4 313.1 L361.6 314.8 L354.9 313.1 L338.0 309.8 L338.0 242.3 Z" fill="#d4c821"/>
<path d="M489.8 232.2 L499.9 230.5 L506.6 233.9 L504.9 242.3 L498.2 245.7 L493.1 242.3 L486.4 249.1 L483.0 254.1 L479.7 252.4 L483.0 242.3 Z" fill="#94b817"/>
<path d="M488.6 275.2 L487.4 277.0 L484.2 278.1 L480.2 278.1 L477.0 277.0 L475.8 275.2 L477.0 273.4 L480.2 272.3 L484.2 272.3 L487.4 273.4 Z" fill="#94b817"/>
<path d="M442.6 304.7 L452.7 308.1 L459.4 309.8 L463.6 316.5 L459.4 319.9 L454.4 322.4 L447.6 324.1 L442.6 326.6 L439.2 333.4 L436.7 340.1 L432.4 343.5 L430.7 350.2 L432.4 357.0 L437.5 362.0 L442.6 367.1 L445.9 375.5 L440.9 375.5 L437.5 365.4 L432.4 360.4 L429.1 356.1 L424.0 355.3 L418.9 357.0 L412.2 359.5 L405.5 357.0 L402.1 351.9 L395.3 348.6 L392.0 343.5 L388.6 338.4 L386.1 333.4 L387.7 326.6 L390.3 319.9 L393.6 314.8 L400.4 311.5 L408.8 309.8 L418.9 307.2 L429.1 308.1 L435.8 306.4 Z" fill="#d4c821"/>
<path d="M369.5 342.5 L368.2 345.3 L364.9 347.0 L360.7 347.0 L357.3 345.3 L356.0 342.5 L357.3 339.7 L360.7 338.0 L364.9 338.0 L368.2 339.7 Z" fill="#d4c821"/>
<path d="M555.5 322.4 L540.4 323.3 L531.9 324.1 L523.5 324.9 L516.8 324.1 L510.0 326.6 L506.6 333.4 L504.1 340.1 L498.2 343.5 L489.8 341.8 L484.7 343.5 L481.3 348.6 L478.0 355.3 L479.7 360.4 L484.7 365.4 L489.8 368.8 L494.8 375.5 L555.5 375.5 Z" fill="#d4c821"/>
<path d="M530.2 252.4 L533.6 249.1 L540.4 247.4 L548.8 249.1 L555.5 252.4 L555.5 260.9 L547.1 259.2 L540.4 257.5 L533.6 257.5 Z" fill="#d4c821"/>
<path d="M456.0 335.1 L462.8 331.7 L471.2 333.4 L472.9 340.1 L469.5 346.9 L462.8 349.4 L456.9 346.9 L454.4 341.0 Z" fill="#d4c821"/>
<path d="M459.4 357.0 L466.2 353.6 L472.9 356.1 L474.6 363.7 L471.2 370.5 L464.5 371.3 L459.4 367.1 Z" fill="#d4c821"/>
<path d="M390.6 256.7 L389.8 259.0 L387.6 260.5 L384.9 260.5 L382.7 259.0 L381.8 256.7 L382.7 254.3 L384.9 252.8 L387.6 252.8 L389.8 254.3 Z" fill="#ffc022"/>
<path d="M461.1 257.5 L460.1 259.9 L457.6 261.3 L454.5 261.3 L452.0 259.9 L451.0 257.5 L452.0 255.1 L454.5 253.6 L457.6 253.6 L460.1 255.1 Z" fill="#ffc022"/>
<path d="M458.7 257.8 L458.2 259.0 L456.9 259.8 L455.2 259.8 L453.9 259.0 L453.3 257.8 L453.9 256.6 L455.2 255.9 L456.9 255.9 L458.2 256.6 Z" fill="#ff9a12"/>
<path d="M474.8 250.7 L474.2 252.2 L472.9 253.2 L471.2 253.2 L469.9 252.2 L469.4 250.7 L469.9 249.3 L471.2 248.3 L472.9 248.3 L474.2 249.3 Z" fill="#ffc022"/>
<path d="M539.7 253.3 L539.1 255.3 L537.6 256.5 L535.7 256.5 L534.2 255.3 L533.6 253.3 L534.2 251.3 L535.7 250.1 L537.6 250.1 L539.1 251.3 Z" fill="#ffc022"/>
<path d="M525.2 267.6 L524.8 268.6 L523.8 269.2 L522.5 269.2 L521.5 268.6 L521.1 267.6 L521.5 266.6 L522.5 266.0 L523.8 266.0 L524.8 266.6 Z" fill="#ffc022"/>
<path d="M367.5 285.7 L367.2 287.4 L366.3 288.5 L365.3 288.5 L364.5 287.4 L364.1 285.7 L364.5 283.9 L365.3 282.8 L366.3 282.8 L367.2 283.9 Z" fill="#ffc022"/>
<path d="M379.5 284.1 L379.2 285.1 L378.6 285.7 L377.7 285.7 L377.0 285.1 L376.8 284.1 L377.0 283.1 L377.7 282.5 L378.6 282.5 L379.2 283.1 Z" fill="#ffc022"/>
<path d="M370.9 410.5 L376.8 412.2 L385.2 413.0 L392.0 408.8 L397.0 404.6 L405.5 402.9 L412.2 401.2 L415.6 403.7 L416.9 412.2 L414.7 420.6 L410.5 425.6 L404.6 428.2 L401.2 432.4 L403.8 436.6 L408.8 437.5 L412.2 439.1 L409.7 444.2 L405.5 447.6 L402.1 450.9 L400.4 445.9 L400.7 440.8 L398.7 435.8 L397.9 429.0 L395.3 424.0 L388.6 424.0 L381.8 422.3 L375.9 420.6 L371.7 417.2 Z" fill="#d4c821"/>
<path d="M413.9 368.3 L425.7 368.3 L432.4 375.1 L439.2 380.1 L445.9 376.7 L451.0 373.4 L454.4 368.3 L472.9 368.3 L471.2 378.4 L470.4 386.9 L467.8 393.6 L464.5 400.4 L461.9 406.3 L456.0 412.2 L451.0 418.9 L447.6 425.6 L442.6 428.2 L437.5 424.0 L432.4 422.3 L427.4 425.6 L422.3 429.0 L420.6 422.3 L423.2 413.8 L425.7 407.1 L429.1 403.7 L435.8 405.4 L442.6 403.7 L447.6 398.7 L449.3 391.9 L445.9 388.5 L439.2 390.2 L432.4 388.5 L427.4 383.5 L420.6 380.1 L415.6 375.1 Z" fill="#d4c821"/>
<path d="M478.0 373.4 L484.7 368.3 L555.5 368.3 L555.5 420.6 L547.1 420.6 L542.9 418.9 L541.2 413.0 L538.7 418.9 L535.3 422.3 L531.9 429.0 L530.2 435.8 L527.7 442.5 L524.3 448.4 L519.3 452.6 L515.1 457.7 L511.7 462.7 L506.6 466.1 L499.9 467.8 L493.1 468.1 L486.4 469.8 L479.7 470.7 L472.9 469.8 L467.8 471.5 L462.8 474.9 L456.0 478.3 L449.3 482.5 L445.9 483.3 L443.4 478.3 L441.2 471.2 L439.2 464.4 L432.4 457.7 L427.4 452.6 L429.1 445.9 L435.8 444.2 L442.6 445.9 L449.3 447.6 L454.4 443.4 L459.4 439.5 L466.2 437.1 L469.5 434.1 L466.2 429.0 L469.5 424.0 L478.0 420.6 L483.0 415.5 L486.4 410.5 L488.1 403.7 L486.4 398.7 L483.0 393.6 L478.8 386.9 L478.0 380.1 Z" fill="#d4c821"/>
<path d="M449.3 488.0 L456.0 484.7 L462.8 479.6 L469.5 477.9 L476.3 479.6 L486.4 480.5 L496.5 479.6 L506.6 477.9 L515.1 475.4 L523.5 471.2 L531.9 464.4 L537.0 454.3 L540.4 442.5 L542.0 430.7 L547.1 425.6 L555.5 425.6 L555.5 518.4 L545.4 516.7 L537.0 518.4 L530.2 521.8 L525.2 528.5 L523.5 536.9 L518.4 542.0 L510.0 543.7 L503.3 542.0 L496.5 545.4 L489.8 547.1 L484.7 542.0 L478.0 536.9 L472.9 530.2 L467.8 525.1 L462.8 520.1 L457.7 515.0 L458.6 508.3 L461.1 503.2 L456.0 499.8 L451.0 496.5 L449.3 491.4 Z" fill="#d4c821"/>
<path d="M530.2 531.9 L540.4 531.0 L545.4 536.9 L547.1 545.4 L553.0 548.8 L555.5 555.5 L555.5 585.0 L531.9 585.0 L533.6 575.7 L538.7 569.0 L540.4 558.9 L535.3 552.1 L531.9 545.4 L529.4 538.6 Z" fill="#d4c821"/>
<path d="M518.4 569.0 L521.8 558.9 L528.6 553.8 L531.9 555.5 L531.1 563.9 L525.2 570.7 L520.1 572.4 Z" fill="#d4c821"/>
<path d="M356.2 404.6 L359.9 401.7 L365.8 400.4 L370.9 400.9 L370.0 403.7 L365.0 405.8 L359.1 407.1 Z" fill="#48a810"/>
<path d="M385.9 486.7 L385.2 487.5 L383.3 488.0 L381.0 488.0 L379.2 487.5 L378.5 486.7 L379.2 485.9 L381.0 485.4 L383.3 485.4 L385.2 485.9 Z" fill="#48a810"/>
<path d="M507.5 461.1 L505.7 463.8 L501.1 465.6 L495.3 465.6 L490.7 463.8 L488.9 461.1 L490.7 458.3 L495.3 456.6 L501.1 456.6 L505.7 458.3 Z" fill="#ffc022"/>
<path d="M514.7 457.7 L513.9 461.5 L511.7 463.8 L509.0 463.8 L506.8 461.5 L506.0 457.7 L506.8 453.9 L509.0 451.6 L511.7 451.6 L513.9 453.9 Z" fill="#ff9a12"/>
<path d="M484.7 461.9 L484.1 464.7 L482.4 466.4 L480.3 466.4 L478.6 464.7 L478.0 461.9 L478.6 459.1 L480.3 457.4 L482.4 457.4 L484.1 459.1 Z" fill="#ffc022"/>
<path d="M459.6 467.0 L459.1 468.4 L457.7 469.2 L456.1 469.2 L454.7 468.4 L454.2 467.0 L454.7 465.6 L456.1 464.7 L457.7 464.7 L459.1 465.6 Z" fill="#ffc022"/>
<path d="M463.1 445.9 L462.1 449.1 L459.4 451.0 L456.1 451.0 L453.4 449.1 L452.3 445.9 L453.4 442.7 L456.1 440.8 L459.4 440.8 L462.1 442.7 Z" fill="#ffc022"/>
<path d="M456.0 410.8 L455.4 412.4 L453.7 413.4 L451.6 413.4 L449.9 412.4 L449.3 410.8 L449.9 409.2 L451.6 408.2 L453.7 408.2 L455.4 409.2 Z" fill="#ffc022"/>
<path d="M471.2 434.1 L470.8 435.1 L469.8 435.7 L468.6 435.7 L467.6 435.1 L467.2 434.1 L467.6 433.1 L468.6 432.5 L469.8 432.5 L470.8 433.1 Z" fill="#ffc022"/>
<path d="M511.9 380.1 L511.3 382.3 L510.0 383.6 L508.3 383.6 L507.0 382.3 L506.5 380.1 L507.0 377.9 L508.3 376.6 L510.0 376.6 L511.3 377.9 Z" fill="#ffc022"/>
<path d="M499.7 373.4 L499.3 374.4 L498.1 375.0 L496.6 375.0 L495.4 374.4 L495.0 373.4 L495.4 372.4 L496.6 371.8 L498.1 371.8 L499.3 372.4 Z" fill="#ffc022"/>
<path d="M527.9 424.3 L527.4 425.5 L526.3 426.2 L524.8 426.2 L523.6 425.5 L523.2 424.3 L523.6 423.1 L524.8 422.4 L526.3 422.4 L527.4 423.1 Z" fill="#ffc022"/>
<path d="M537.7 406.3 L537.3 407.2 L536.3 407.9 L535.0 407.9 L534.0 407.2 L533.6 406.3 L534.0 405.3 L535.0 404.7 L536.3 404.7 L537.3 405.3 Z" fill="#ffc022"/>
<path d="M515.4 496.5 L515.0 497.5 L514.0 498.1 L512.8 498.1 L511.7 497.5 L511.4 496.5 L511.7 495.5 L512.8 494.9 L514.0 494.9 L515.0 495.5 Z" fill="#ffc022"/>
<path d="M550.3 230.5 L554.1 230.5 L565.9 225.5 L579.4 224.6 L589.5 225.5 L597.9 232.2 L613.1 234.7 L628.3 238.1 L641.7 244.8 L658.6 246.5 L673.8 245.7 L677.2 249.9 L673.8 255.8 L667.0 254.5 L662.0 257.8 L656.9 262.9 L651.0 269.3 L647.7 274.4 L650.2 282.8 L656.9 289.5 L662.0 296.3 L665.4 301.3 L667.0 309.8 L667.0 316.5 L673.8 319.9 L675.5 326.6 L678.8 333.4 L683.9 340.1 L689.0 346.9 L692.3 353.6 L694.0 360.4 L692.3 367.1 L689.0 375.5 L650.2 375.5 L646.8 363.7 L643.4 357.0 L640.1 350.2 L638.4 343.5 L640.1 336.8 L638.4 330.0 L633.3 324.9 L628.3 319.9 L629.9 313.1 L633.3 306.4 L629.9 300.5 L623.2 298.0 L618.1 291.2 L618.1 283.6 L619.8 276.0 L616.5 269.3 L611.4 262.6 L606.3 259.2 L599.6 255.8 L591.2 257.5 L584.4 260.9 L582.7 265.9 L576.0 267.6 L569.2 265.9 L562.5 265.9 L555.7 267.6 L550.3 267.6 Z" fill="#d4c821"/>
<path d="M682.2 252.4 L689.0 259.2 L692.3 267.6 L695.7 276.0 L700.8 281.9 L710.9 284.5 L721.0 282.8 L728.1 270.6 L766.5 270.6 L766.5 375.5 L734.5 375.5 L736.2 367.1 L732.8 360.4 L727.8 353.6 L724.4 343.5 L717.6 336.8 L714.3 328.3 L707.5 323.3 L700.8 318.2 L695.7 309.8 L692.3 301.3 L689.8 292.9 L683.9 286.2 L682.2 276.0 L678.8 265.9 L675.5 259.2 Z" fill="#d4c821"/>
<path d="M547.3 331.7 L554.1 333.4 L557.4 340.1 L564.2 343.5 L570.9 340.1 L577.7 343.5 L584.4 350.2 L589.5 357.0 L591.2 365.4 L589.5 375.5 L547.3 375.5 Z" fill="#d4c821"/>
<path d="M603.8 213.6 L607.2 210.3 L613.1 209.4 L615.6 212.8 L613.1 217.0 L607.2 217.9 Z" fill="#d4c821"/>
<path d="M616.5 343.5 L621.5 341.8 L624.9 346.9 L623.2 353.6 L619.8 360.4 L615.6 358.7 L613.9 351.9 Z" fill="#d4c821"/>
<path d="M629.9 319.0 L629.0 322.2 L626.4 324.2 L623.3 324.2 L620.8 322.2 L619.8 319.0 L620.8 315.9 L623.3 313.9 L626.4 313.9 L629.0 315.9 Z" fill="#d4c821"/>
<path d="M683.9 235.6 L689.0 232.2 L694.0 235.6 L693.2 241.5 L687.3 242.3 Z" fill="#d4c821"/>
<path d="M577.7 242.3 L576.4 244.8 L573.0 246.3 L568.8 246.3 L565.5 244.8 L564.2 242.3 L565.5 239.8 L568.8 238.3 L573.0 238.3 L576.4 239.8 Z" fill="#94b817"/>
<path d="M619.0 249.9 L618.2 252.9 L616.1 254.7 L613.5 254.7 L611.4 252.9 L610.6 249.9 L611.4 246.9 L613.5 245.1 L616.1 245.1 L618.2 246.9 Z" fill="#94b817"/>
<path d="M641.6 264.6 L641.1 265.8 L639.9 266.5 L638.5 266.5 L637.3 265.8 L636.9 264.6 L637.3 263.4 L638.5 262.7 L639.9 262.7 L641.1 263.4 Z" fill="#ffc022"/>
<path d="M729.6 312.6 L728.8 314.2 L726.6 315.2 L723.9 315.2 L721.7 314.2 L720.8 312.6 L721.7 311.1 L723.9 310.1 L726.6 310.1 L728.8 311.1 Z" fill="#ffc022"/>
<path d="M717.6 308.9 L717.4 310.3 L716.7 311.2 L715.9 311.2 L715.2 310.3 L714.9 308.9 L715.2 307.5 L715.9 306.7 L716.7 306.7 L717.4 307.5 Z" fill="#ffc022"/>
<path d="M737.5 315.7 L737.3 316.7 L736.6 317.3 L735.8 317.3 L735.1 316.7 L734.8 315.7 L735.1 314.7 L735.8 314.1 L736.6 314.1 L737.3 314.7 Z" fill="#ffc022"/>
<path d="M748.8 338.4 L753.0 336.8 L755.6 346.9 L756.8 360.4 L758.1 375.5 L752.2 375.5 L751.4 360.4 L748.8 346.9 Z" fill="#ffc022"/>
<path d="M547.3 368.3 L587.8 368.3 L589.5 376.7 L586.9 385.2 L582.7 391.9 L577.7 400.4 L574.3 407.1 L574.3 415.5 L577.7 420.6 L576.0 427.3 L576.8 435.8 L581.0 440.8 L589.5 437.5 L597.9 432.4 L606.3 429.9 L613.1 432.4 L619.8 434.1 L624.9 437.5 L623.2 444.2 L619.8 449.3 L616.5 454.3 L611.4 457.7 L604.6 461.1 L599.6 466.1 L601.3 474.6 L604.6 479.6 L608.0 484.7 L611.4 491.4 L616.5 493.1 L624.9 494.8 L629.9 499.8 L628.3 504.9 L623.2 508.3 L618.1 511.7 L613.1 516.7 L614.8 521.8 L616.5 526.8 L613.1 530.2 L608.0 528.5 L603.0 521.8 L599.6 526.8 L601.3 533.6 L597.9 538.6 L591.2 540.3 L582.7 538.6 L576.0 536.9 L567.5 536.9 L562.5 531.9 L559.1 525.1 L554.1 518.4 L547.3 516.7 Z" fill="#d4c821"/>
<path d="M595.4 503.2 L599.6 504.9 L603.0 511.7 L605.5 516.7 L604.6 521.8 L599.6 522.6 L596.2 516.7 L594.2 510.0 Z" fill="#94b817"/>
<path d="M631.6 400.4 L640.1 397.0 L650.2 395.3 L660.3 398.7 L667.0 405.4 L667.0 413.8 L663.7 420.6 L656.9 424.0 L650.2 420.6 L643.4 415.5 L636.7 410.5 L632.5 405.4 Z" fill="#d4c821"/>
<path d="M612.2 398.7 L615.6 397.8 L618.1 407.1 L623.2 418.9 L631.6 425.6 L629.9 429.9 L623.2 429.0 L618.1 422.3 L613.9 412.2 Z" fill="#d4c821"/>
<path d="M670.4 400.4 L677.2 397.0 L685.6 397.0 L691.5 402.0 L692.3 410.5 L689.0 418.9 L682.2 422.3 L675.5 420.6 L671.3 415.5 L668.7 407.1 Z" fill="#d4c821"/>
<path d="M694.0 388.5 L693.4 390.7 L691.7 392.1 L689.6 392.1 L687.9 390.7 L687.3 388.5 L687.9 386.4 L689.6 385.0 L691.7 385.0 L693.4 386.4 Z" fill="#d4c821"/>
<path d="M730.3 368.3 L732.0 378.4 L734.5 386.9 L742.9 388.5 L746.3 395.3 L742.9 403.7 L734.5 407.1 L726.1 412.2 L722.7 420.6 L719.3 429.0 L715.9 440.8 L712.6 450.9 L709.2 461.1 L705.8 469.5 L700.8 474.6 L695.7 481.3 L692.3 488.0 L690.7 498.2 L683.9 508.3 L678.8 516.7 L677.2 523.5 L679.7 529.4 L766.5 529.4 L766.5 368.3 Z" fill="#d4c821"/>
<path d="M637.0 490.6 L636.3 493.1 L634.5 494.6 L632.2 494.6 L630.3 493.1 L629.6 490.6 L630.3 488.1 L632.2 486.6 L634.5 486.6 L636.3 488.1 Z" fill="#d4c821"/>
<path d="M656.9 368.3 L677.2 368.3 L675.5 376.7 L667.0 380.1 L658.6 376.7 Z" fill="#d4c821"/>
<path d="M669.6 440.8 L668.8 442.3 L666.7 443.2 L664.1 443.2 L661.9 442.3 L661.1 440.8 L661.9 439.3 L664.1 438.4 L666.7 438.4 L668.8 439.3 Z" fill="#d4c821"/>
<path d="M571.9 517.9 L571.4 519.1 L569.8 519.8 L568.0 519.8 L566.4 519.1 L565.9 517.9 L566.4 516.7 L568.0 516.0 L569.8 516.0 L571.4 516.7 Z" fill="#ffc022"/>
<path d="M569.7 427.3 L569.2 429.8 L567.6 431.3 L565.8 431.3 L564.3 429.8 L563.7 427.3 L564.3 424.9 L565.8 423.3 L567.6 423.3 L569.2 424.9 Z" fill="#ffc022"/>
<path d="M625.9 425.1 L625.4 426.9 L624.0 428.0 L622.4 428.0 L621.0 426.9 L620.5 425.1 L621.0 423.4 L622.4 422.3 L624.0 422.3 L625.4 423.4 Z" fill="#ffc022"/>
<path d="M719.2 489.7 L718.7 491.9 L717.5 493.3 L716.1 493.3 L714.9 491.9 L714.4 489.7 L714.9 487.5 L716.1 486.2 L717.5 486.2 L718.7 487.5 Z" fill="#ffc022"/>
<path d="M705.7 507.4 L705.2 509.0 L704.0 510.0 L702.6 510.0 L701.4 509.0 L700.9 507.4 L701.4 505.9 L702.6 504.9 L704.0 504.9 L705.2 505.9 Z" fill="#ffc022"/>
<path d="M750.5 368.3 L758.1 368.3 L758.1 380.1 L753.9 379.3 L750.5 375.1 Z" fill="#ffc022"/>
<path d="M728.6 471.2 L732.8 457.7 L736.2 454.3 L736.2 464.4 L731.1 472.9 Z" fill="#ffc022"/>
<use href="#coast"/>
<use href="#grid"/>
</g>
<circle cx="550.55" cy="370.95" r="206.1" fill="none" stroke="#000" stroke-width="1.6"/>
</g>
<g transform="translate(0,990)">
<g clip-path="url(#disc)">
<circle cx="550.55" cy="370.95" r="206.1" fill="#ffffff"/>
<path d="M336.3 156.3 L555.5 156.3 L555.5 232.2 L543.7 230.5 L531.9 225.5 L525.2 228.8 L516.8 225.5 L513.4 228.8 L515.1 237.3 L510.0 245.7 L508.3 249.1 L504.9 228.8 L499.9 225.5 L489.8 224.6 L484.7 225.5 L481.3 230.5 L478.0 237.3 L472.9 242.3 L466.2 245.7 L459.4 249.1 L452.7 251.6 L442.6 254.1 L435.8 257.5 L429.1 259.2 L418.9 256.7 L408.8 254.1 L397.0 250.7 L388.6 246.5 L382.2 252.4 L338.0 276.0 Z" fill="#dce2ff"/>
<path d="M432.4 237.3 L445.9 232.2 L459.4 233.9 L469.5 237.3 L472.9 242.3 L466.2 245.7 L456.0 249.9 L445.9 252.4 L437.5 255.8 L432.4 249.1 Z" fill="#ffffff"/>
<path d="M392.0 247.4 L405.5 249.9 L418.9 252.4 L432.4 255.8 L429.1 259.2 L415.6 257.5 L402.1 255.0 L392.0 252.4 Z" fill="#ffffff"/>
<path d="M513.4 228.8 L523.5 225.5 L531.9 228.8 L528.6 237.3 L520.1 242.3 L515.1 238.9 Z" fill="#ffffff"/>
<path d="M486.4 191.7 L496.5 186.7 L508.3 188.4 L510.0 196.8 L503.3 200.2 L493.1 199.3 Z" fill="#ffffff"/>
<path d="M506.6 208.6 L516.8 206.9 L523.5 213.6 L521.8 220.4 L513.4 218.7 L507.5 215.3 Z" fill="#ffffff"/>
<path d="M549.6 176.5 L547.9 180.0 L543.2 182.2 L537.5 182.2 L532.9 180.0 L531.1 176.5 L532.9 173.1 L537.5 170.9 L543.2 170.9 L547.9 173.1 Z" fill="#ffe4de"/>
<path d="M417.3 215.3 L425.7 208.6 L435.8 205.2 L445.9 203.5 L456.0 200.2 L466.2 195.1 L472.9 190.0 L478.0 191.7 L474.6 198.5 L467.8 205.2 L459.4 212.0 L449.3 215.3 L439.2 217.0 L429.1 220.4 L420.6 222.1 Z" fill="#b9c5fd"/>
<path d="M381.0 254.1 L388.6 249.1 L397.0 252.4 L405.5 255.0 L413.9 257.5 L418.9 260.9 L415.6 265.9 L405.5 265.9 L397.0 264.2 L388.6 263.4 L381.8 262.6 L378.5 259.2 Z" fill="#b9c5fd"/>
<path d="M393.6 257.8 L392.5 259.6 L389.6 260.7 L385.9 260.7 L383.0 259.6 L381.8 257.8 L383.0 256.0 L385.9 254.9 L389.6 254.9 L392.5 256.0 Z" fill="#95a8fa"/>
<path d="M371.7 267.6 L381.8 265.9 L388.6 272.7 L386.9 279.4 L380.2 284.5 L371.7 287.8 L365.8 289.5 L363.3 282.8 L366.7 274.4 Z" fill="#dce2ff"/>
<path d="M478.0 295.4 L484.7 292.1 L493.1 289.5 L503.3 286.2 L513.4 282.8 L520.1 276.0 L523.5 267.6 L523.5 259.2 L525.2 252.4 L530.2 245.7 L537.0 238.9 L545.4 233.9 L555.5 232.2 L555.5 375.5 L494.8 375.5 L489.8 368.8 L486.4 360.4 L486.4 351.9 L484.7 343.5 L481.3 336.8 L478.0 330.0 L472.9 324.9 L466.2 319.9 L469.5 313.1 L472.9 306.4 L475.4 301.3 Z" fill="#b9c5fd"/>
<path d="M523.5 262.6 L531.9 259.2 L540.4 259.2 L555.5 259.2 L555.5 326.6 L547.1 328.3 L537.0 326.6 L528.6 323.3 L523.5 316.5 L521.8 306.4 L521.8 292.9 L521.0 279.4 Z" fill="#dce2ff"/>
<path d="M479.7 298.0 L489.8 293.8 L499.9 291.2 L510.0 291.2 L518.4 294.6 L520.1 303.0 L511.7 306.4 L499.9 308.1 L489.8 309.8 L481.3 308.1 Z" fill="#95a8fa"/>
<path d="M531.9 249.1 L540.4 245.7 L550.5 247.4 L555.5 252.4 L555.5 260.9 L545.4 259.2 L537.0 257.5 Z" fill="#95a8fa"/>
<path d="M418.9 260.9 L429.1 259.2 L435.8 257.5 L442.6 254.1 L452.7 251.6 L459.4 249.1 L466.2 245.7 L472.9 242.3 L478.0 237.3 L481.3 230.5 L484.7 225.5 L489.8 224.6 L496.5 225.5 L503.3 227.1 L508.3 230.5 L510.0 237.3 L508.3 244.0 L506.6 249.1 L510.0 254.1 L516.8 257.5 L521.8 260.9 L522.7 267.6 L521.0 274.4 L516.8 279.4 L510.0 282.8 L503.3 286.2 L496.5 287.8 L489.8 289.5 L483.0 291.2 L478.0 294.6 L475.4 301.3 L472.9 306.4 L469.5 311.5 L466.2 315.7 L462.8 319.9 L457.7 321.6 L451.0 324.1 L445.9 328.3 L443.4 334.2 L442.6 341.8 L440.0 346.9 L438.3 353.6 L439.2 359.5 L443.4 363.7 L446.8 368.8 L445.9 375.5 L336.3 375.5 L336.3 291.2 L365.0 291.2 L375.1 286.2 L385.2 282.8 L388.6 276.0 L388.6 269.3 L395.3 265.9 L405.5 264.2 L412.2 265.9 Z" fill="#ffc8bd"/>
<path d="M365.0 291.2 L375.1 286.2 L385.2 282.8 L393.6 283.6 L402.1 286.2 L408.8 291.2 L413.9 296.3 L412.2 303.0 L405.5 306.4 L398.7 309.8 L395.3 316.5 L392.0 323.3 L388.6 330.0 L385.2 336.8 L381.8 343.5 L378.5 351.9 L375.1 360.4 L371.7 368.8 L370.0 375.5 L336.3 375.5 L336.3 292.9 Z" fill="#ffa898"/>
<path d="M361.6 324.9 L360.5 329.9 L357.5 333.0 L353.9 333.0 L350.9 329.9 L349.8 324.9 L350.9 320.0 L353.9 316.9 L357.5 316.9 L360.5 320.0 Z" fill="#ff8a72"/>
<path d="M402.1 284.5 L412.2 282.8 L422.3 286.2 L432.4 291.2 L442.6 294.6 L452.7 292.9 L462.8 287.8 L471.2 282.8 L478.0 286.2 L479.7 292.9 L472.9 299.7 L464.5 303.0 L456.0 304.7 L445.9 303.0 L435.8 301.3 L425.7 298.0 L415.6 294.6 L408.8 291.2 Z" fill="#ffa898"/>
<path d="M481.3 232.2 L489.8 228.8 L499.9 230.5 L506.6 235.6 L506.6 245.7 L503.3 252.4 L510.0 259.2 L518.4 262.6 L520.1 271.0 L513.4 277.7 L503.3 281.1 L493.1 279.4 L486.4 274.4 L483.0 267.6 L478.0 262.6 L479.7 254.1 L483.0 245.7 Z" fill="#ffa898"/>
<path d="M388.6 333.4 L398.7 330.0 L408.8 333.4 L418.9 336.8 L429.1 338.4 L437.5 341.8 L439.2 350.2 L437.5 358.7 L434.1 365.4 L429.1 368.8 L422.3 367.1 L417.3 360.4 L410.5 357.0 L402.1 355.3 L392.0 357.0 L383.5 360.4 L378.5 363.7 L381.8 350.2 L385.2 340.1 Z" fill="#ffa898"/>
<path d="M372.6 375.5 L374.3 367.1 L379.3 360.4 L386.1 357.8 L381.8 365.4 L380.2 375.5 Z" fill="#ffffff"/>
<path d="M380.2 377.2 L382.2 365.8 L386.6 360.7 L393.6 359.5 L404.6 360.0 L410.5 364.6 L415.9 370.1 L418.1 377.2 Z" fill="#b9c5fd"/>
<path d="M408.8 377.2 L410.5 367.1 L415.9 370.1 L418.9 377.2 Z" fill="#dce2ff"/>
<path d="M388.6 328.3 L395.3 323.3 L405.5 324.1 L413.9 326.6 L417.3 331.7 L412.2 335.9 L402.1 335.1 L392.0 333.4 Z" fill="#ffffff"/>
<path d="M410.5 313.1 L417.3 309.8 L424.0 313.1 L425.7 319.9 L418.9 324.1 L412.2 321.6 Z" fill="#ffffff"/>
<path d="M421.0 316.5 L420.3 317.9 L418.4 318.8 L416.1 318.8 L414.3 317.9 L413.5 316.5 L414.3 315.1 L416.1 314.3 L418.4 314.3 L420.3 315.1 Z" fill="#b9c5fd"/>
<path d="M432.4 308.1 L442.6 304.7 L449.3 309.8 L447.6 318.2 L439.2 320.7 L433.3 316.5 Z" fill="#ffffff"/>
<path d="M425.7 269.3 L435.8 265.9 L445.9 267.6 L447.6 276.0 L439.2 282.8 L429.1 281.1 L424.0 276.0 Z" fill="#ffffff"/>
<path d="M497.4 280.3 L496.1 282.4 L492.7 283.8 L488.5 283.8 L485.2 282.4 L483.9 280.3 L485.2 278.1 L488.5 276.7 L492.7 276.7 L496.1 278.1 Z" fill="#ffffff"/>
<path d="M492.8 281.9 L492.2 282.9 L490.7 283.5 L488.8 283.5 L487.3 282.9 L486.7 281.9 L487.3 281.0 L488.8 280.3 L490.7 280.3 L492.2 281.0 Z" fill="#b9c5fd"/>
<path d="M367.5 343.5 L366.7 345.5 L364.6 346.7 L362.0 346.7 L359.9 345.5 L359.1 343.5 L359.9 341.5 L362.0 340.3 L364.6 340.3 L366.7 341.5 Z" fill="#ffffff"/>
<path d="M466.2 252.4 L476.3 249.1 L481.3 254.1 L478.0 260.9 L469.5 262.6 Z" fill="#ffffff"/>
<path d="M463.6 257.5 L462.2 260.5 L458.4 262.3 L453.7 262.3 L449.9 260.5 L448.5 257.5 L449.9 254.5 L453.7 252.7 L458.4 252.7 L462.2 254.5 Z" fill="#b9c5fd"/>
<path d="M460.8 257.2 L459.9 258.9 L457.5 260.0 L454.6 260.0 L452.2 258.9 L451.3 257.2 L452.2 255.4 L454.6 254.3 L457.5 254.3 L459.9 255.4 Z" fill="#294df8"/>
<path d="M452.2 255.5 L451.5 256.7 L449.6 257.4 L447.3 257.4 L445.5 256.7 L444.7 255.5 L445.5 254.3 L447.3 253.5 L449.6 253.5 L451.5 254.3 Z" fill="#ff8a72"/>
<path d="M432.4 262.6 L439.2 257.5 L445.9 259.2 L444.2 264.2 L437.5 265.9 Z" fill="#ffffff"/>
<path d="M439.2 326.6 L447.6 324.1 L456.0 322.4 L462.8 319.9 L472.9 324.9 L486.4 326.6 L494.8 335.1 L498.2 343.5 L496.5 375.5 L439.2 375.5 L438.3 353.6 L442.6 341.8 Z" fill="#b9c5fd"/>
<path d="M456.0 336.8 L462.8 330.0 L467.8 326.6 L472.9 328.3 L471.2 336.8 L467.8 343.5 L464.5 350.2 L457.7 350.2 L454.4 343.5 Z" fill="#ffc8bd"/>
<path d="M472.9 324.9 L479.7 323.3 L486.4 328.3 L484.7 335.1 L478.0 335.1 L473.8 331.7 Z" fill="#ffc8bd"/>
<path d="M478.0 345.2 L477.2 348.2 L475.1 350.0 L472.4 350.0 L470.3 348.2 L469.5 345.2 L470.3 342.2 L472.4 340.4 L475.1 340.4 L477.2 342.2 Z" fill="#ffffff"/>
<path d="M457.7 360.4 L456.8 362.8 L454.2 364.4 L451.1 364.4 L448.6 362.8 L447.6 360.4 L448.6 357.9 L451.1 356.4 L454.2 356.4 L456.8 357.9 Z" fill="#ffffff"/>
<path d="M547.3 156.3 L766.5 156.3 L766.5 213.6 L683.9 213.6 L680.5 217.0 L673.8 220.4 L670.4 225.5 L673.8 232.2 L677.2 238.9 L675.5 244.0 L663.7 244.8 L650.2 246.5 L643.4 244.8 L636.7 241.5 L629.9 237.3 L624.9 232.2 L618.1 230.5 L613.1 235.6 L606.3 237.3 L603.0 232.2 L596.2 233.9 L589.5 237.3 L592.8 230.5 L587.8 225.5 L577.7 222.9 L569.2 225.5 L559.1 230.5 L547.3 232.2 Z" fill="#dce2ff"/>
<path d="M552.4 191.7 L559.1 178.2 L572.6 176.5 L582.7 181.6 L592.8 188.4 L599.6 196.8 L604.6 203.5 L601.3 208.6 L597.9 215.3 L592.8 222.1 L582.7 223.8 L574.3 225.5 L565.9 228.8 L555.7 232.2 L550.7 225.5 L554.1 212.0 L552.4 201.8 Z" fill="#ffffff"/>
<path d="M567.5 205.2 L565.9 209.7 L561.7 212.4 L556.5 212.4 L552.3 209.7 L550.7 205.2 L552.3 200.8 L556.5 198.0 L561.7 198.0 L565.9 200.8 Z" fill="#dce2ff"/>
<path d="M650.2 200.2 L658.6 196.8 L670.4 203.5 L673.8 208.6 L670.4 215.3 L667.0 222.1 L665.4 228.8 L658.6 230.5 L651.9 225.5 L649.3 215.3 L648.5 206.9 Z" fill="#b9c5fd"/>
<path d="M629.9 238.9 L640.1 237.3 L650.2 242.3 L660.3 242.3 L667.0 238.9 L670.4 242.3 L663.7 245.7 L650.2 247.4 L640.1 245.7 Z" fill="#ffffff"/>
<path d="M628.3 189.2 L629.9 195.1 L628.3 203.5 L623.2 212.0 L618.1 218.7 L611.4 223.8 L603.0 228.8 L596.2 233.9 L590.3 237.3 L591.2 232.2 L597.9 225.5 L601.3 218.7 L600.4 212.0 L603.0 206.9 L608.0 203.5 L614.8 196.8 L621.5 191.7 Z" fill="#ffc8bd"/>
<path d="M618.1 212.8 L616.7 216.3 L612.9 218.4 L608.2 218.4 L604.4 216.3 L603.0 212.8 L604.4 209.3 L608.2 207.2 L612.9 207.2 L616.7 209.3 Z" fill="#ffa898"/>
<path d="M555.7 238.9 L562.5 235.6 L569.2 232.2 L577.7 228.8 L587.8 230.5 L591.2 237.3 L599.6 240.6 L608.0 242.3 L616.5 244.0 L624.9 245.7 L633.3 247.4 L643.4 249.9 L653.6 251.6 L663.7 249.9 L673.8 248.2 L678.0 244.0 L677.2 237.3 L672.9 228.8 L673.8 222.1 L682.2 217.0 L689.0 213.6 L766.5 213.6 L766.5 375.5 L624.9 375.5 L624.0 367.1 L621.5 358.7 L623.2 351.9 L627.4 343.5 L627.4 335.1 L624.9 328.3 L621.5 324.9 L623.2 316.5 L623.2 309.8 L619.8 304.7 L614.8 301.3 L609.7 301.3 L606.3 303.9 L603.0 299.7 L599.6 292.9 L596.2 287.8 L591.2 282.8 L586.1 279.4 L582.7 274.4 L574.3 271.0 L569.2 267.6 L562.5 269.3 L555.7 265.9 L552.4 259.2 L554.1 249.1 Z" fill="#ffc8bd"/>
<path d="M616.5 245.7 L626.6 247.4 L636.7 252.4 L646.8 259.2 L650.2 265.9 L643.4 269.3 L643.4 276.0 L650.2 286.2 L653.6 292.9 L650.2 301.3 L643.4 304.7 L636.7 306.4 L633.3 301.3 L640.1 292.9 L636.7 286.2 L629.9 279.4 L624.9 272.7 L623.2 265.9 L628.3 259.2 L624.9 254.1 L618.1 250.7 Z" fill="#ffffff"/>
<path d="M629.9 252.4 L638.4 255.8 L643.4 262.6 L640.1 267.6 L635.0 265.9 L631.6 259.2 Z" fill="#dce2ff"/>
<path d="M636.7 298.0 L646.8 291.2 L650.2 292.9 L643.4 301.3 L638.4 304.7 Z" fill="#b9c5fd"/>
<path d="M587.8 265.9 L596.2 260.9 L606.3 262.6 L616.5 267.6 L623.2 276.0 L628.3 284.5 L624.9 291.2 L619.8 292.9 L623.2 299.7 L619.8 304.7 L613.1 301.3 L606.3 303.0 L601.3 296.3 L597.9 289.5 L591.2 282.8 L586.9 276.0 Z" fill="#ffa898"/>
<path d="M619.8 279.4 L619.0 281.4 L616.9 282.6 L614.3 282.6 L612.2 281.4 L611.4 279.4 L612.2 277.4 L614.3 276.2 L616.9 276.2 L619.0 277.4 Z" fill="#ff8a72"/>
<path d="M645.1 269.3 L653.6 262.6 L663.7 259.2 L673.8 257.5 L682.2 259.2 L689.0 265.9 L694.0 276.0 L700.8 289.5 L707.5 301.3 L714.3 313.1 L721.0 323.3 L727.8 335.1 L731.1 346.9 L732.8 360.4 L733.7 375.5 L705.8 375.5 L704.1 360.4 L700.8 346.9 L692.3 336.8 L683.9 326.6 L677.2 316.5 L670.4 306.4 L663.7 298.0 L656.9 289.5 L650.2 281.1 Z" fill="#ffa898"/>
<path d="M636.7 360.4 L640.1 351.9 L650.2 348.6 L655.2 353.6 L653.6 363.7 L650.2 375.5 L640.1 375.5 Z" fill="#ffa898"/>
<path d="M665.4 301.3 L673.8 298.0 L678.8 304.7 L677.2 314.8 L670.4 319.9 L665.4 313.1 Z" fill="#ffa898"/>
<path d="M673.8 222.1 L682.2 217.0 L690.7 220.4 L697.4 228.8 L704.1 237.3 L710.9 245.7 L717.6 254.1 L724.4 262.6 L728.1 270.1 L717.6 274.4 L710.9 269.3 L704.1 265.9 L697.4 259.2 L690.7 252.4 L683.9 245.7 L678.8 238.9 L673.8 230.5 Z" fill="#ffa898"/>
<path d="M728.1 270.6 L734.5 279.4 L741.2 291.2 L746.3 303.0 L751.4 316.5 L753.0 326.6 L742.9 328.3 L734.5 323.3 L726.1 319.9 L717.6 316.5 L710.9 309.8 L707.5 301.3 L705.8 292.9 L709.2 284.5 L717.6 277.7 Z" fill="#ffffff"/>
<path d="M717.6 279.4 L726.1 276.0 L731.1 286.2 L727.8 296.3 L719.3 292.9 L715.9 286.2 Z" fill="#ffe4de"/>
<path d="M738.7 309.8 L736.3 314.2 L730.0 317.0 L722.2 317.0 L715.8 314.2 L713.4 309.8 L715.8 305.3 L722.2 302.6 L730.0 302.6 L736.3 305.3 Z" fill="#dce2ff"/>
<path d="M734.5 310.6 L733.0 313.1 L729.3 314.6 L724.6 314.6 L720.8 313.1 L719.3 310.6 L720.8 308.1 L724.6 306.6 L729.3 306.6 L733.0 308.1 Z" fill="#b9c5fd"/>
<path d="M737.9 319.9 L746.3 316.5 L751.4 319.9 L755.6 335.1 L757.3 351.9 L758.1 375.5 L731.1 375.5 L732.8 360.4 L736.2 343.5 L734.5 330.0 Z" fill="#ffa898"/>
<path d="M750.2 347.7 L749.3 351.7 L746.9 354.1 L744.0 354.1 L741.6 351.7 L740.7 347.7 L741.6 343.7 L744.0 341.3 L746.9 341.3 L749.3 343.7 Z" fill="#ffffff"/>
<path d="M745.0 348.6 L744.6 350.0 L743.6 351.0 L742.3 351.0 L741.3 350.0 L740.9 348.6 L741.3 347.1 L742.3 346.2 L743.6 346.2 L744.6 347.1 Z" fill="#ffa898"/>
<path d="M643.4 326.6 L653.6 323.3 L663.7 324.9 L667.0 333.4 L660.3 341.8 L650.2 346.9 L643.4 343.5 L640.1 335.1 Z" fill="#ffffff"/>
<path d="M658.6 335.1 L657.6 338.0 L655.1 339.9 L652.0 339.9 L649.5 338.0 L648.5 335.1 L649.5 332.1 L652.0 330.3 L655.1 330.3 L657.6 332.1 Z" fill="#ffc8bd"/>
<path d="M683.1 363.7 L681.6 366.9 L677.8 368.9 L673.1 368.9 L669.3 366.9 L667.9 363.7 L669.3 360.6 L673.1 358.6 L677.8 358.6 L681.6 360.6 Z" fill="#ffffff"/>
<path d="M659.8 368.8 L659.1 372.3 L657.2 374.4 L654.9 374.4 L653.1 372.3 L652.4 368.8 L653.1 365.3 L654.9 363.2 L657.2 363.2 L659.1 365.3 Z" fill="#dce2ff"/>
<path d="M683.9 265.9 L689.0 264.2 L692.3 272.7 L695.7 282.8 L692.3 284.5 L687.3 276.0 Z" fill="#ffffff"/>
<path d="M547.3 267.6 L555.7 267.6 L562.5 270.1 L569.2 268.5 L574.3 271.8 L582.7 275.2 L586.1 280.3 L591.2 283.6 L596.2 288.7 L599.6 293.8 L603.0 300.5 L606.3 304.7 L609.7 302.2 L614.8 302.2 L619.8 305.6 L623.2 310.6 L622.9 317.4 L621.5 324.9 L624.9 328.3 L626.9 335.1 L626.9 343.5 L623.2 351.9 L621.5 358.7 L624.0 367.1 L624.9 375.5 L547.3 375.5 Z" fill="#dce2ff"/>
<path d="M565.9 340.1 L574.3 335.1 L582.7 330.0 L591.2 328.3 L599.6 326.6 L604.6 319.9 L609.7 318.2 L616.5 323.3 L619.8 330.0 L623.2 336.8 L619.8 345.2 L616.5 351.9 L619.8 360.4 L623.2 368.8 L624.0 375.5 L569.2 375.5 L565.9 368.8 L564.2 360.4 L567.5 351.9 L565.0 345.2 Z" fill="#b9c5fd"/>
<path d="M547.3 276.0 L565.9 276.0 L579.4 279.4 L582.7 284.5 L574.3 286.2 L562.5 284.5 L547.3 282.8 Z" fill="#b9c5fd"/>
<path d="M600.1 314.0 L599.2 317.5 L596.8 319.6 L593.9 319.6 L591.6 317.5 L590.7 314.0 L591.6 310.5 L593.9 308.4 L596.8 308.4 L599.2 310.5 Z" fill="#95a8fa"/>
<path d="M604.1 307.2 L603.8 308.4 L602.7 309.2 L601.5 309.2 L600.5 308.4 L600.1 307.2 L600.5 306.1 L601.5 305.3 L602.7 305.3 L603.8 306.1 Z" fill="#95a8fa"/>
<path d="M594.5 367.1 L599.6 360.4 L608.0 357.0 L611.4 360.4 L606.3 367.1 L599.6 371.3 Z" fill="#95a8fa"/>
<path d="M616.5 306.4 L623.2 309.8 L624.9 319.9 L623.2 326.6 L626.6 333.4 L624.9 343.5 L619.8 345.2 L618.1 336.8 L619.8 326.6 L618.1 318.2 Z" fill="#ffffff"/>
<path d="M621.2 350.2 L620.6 352.7 L619.1 354.3 L617.2 354.3 L615.7 352.7 L615.1 350.2 L615.7 347.8 L617.2 346.2 L619.1 346.2 L620.6 347.8 Z" fill="#95a8fa"/>
<path d="M547.3 228.8 L552.4 228.8 L554.1 237.3 L559.1 242.3 L555.7 249.1 L547.3 249.1 Z" fill="#ffe4de"/>
<path d="M547.3 252.4 L554.1 252.4 L557.4 259.2 L554.1 265.9 L547.3 265.9 Z" fill="#b9c5fd"/>
<path d="M412.2 368.3 L555.5 368.3 L555.5 488.0 L547.1 498.2 L540.4 504.9 L531.9 508.3 L523.5 503.2 L515.1 501.5 L506.6 503.2 L498.2 498.2 L489.8 491.4 L481.3 488.0 L472.9 489.7 L466.2 494.8 L459.4 501.5 L462.8 510.0 L459.4 516.7 L452.7 520.1 L445.9 523.5 L439.2 521.8 L432.4 516.7 L429.1 508.3 L422.3 501.5 L415.6 494.8 L410.5 498.2 L405.5 504.9 L402.1 511.7 L371.7 488.0 L374.3 474.6 L380.2 477.9 L386.9 481.3 L392.0 479.6 L395.3 472.9 L397.0 466.1 L397.9 459.4 L400.4 454.3 L404.6 449.3 L408.8 444.2 L412.2 437.5 L403.8 436.6 L401.2 432.4 L402.1 425.6 L405.5 418.9 L412.2 418.9 L416.9 412.2 L415.6 400.4 L417.3 390.2 L416.4 380.1 Z" fill="#dce2ff"/>
<path d="M336.3 368.3 L380.2 368.3 L376.8 376.7 L371.7 385.2 L366.7 391.9 L358.2 397.0 L353.2 402.0 L336.3 403.7 Z" fill="#ffa898"/>
<path d="M348.1 408.8 L354.9 412.2 L363.3 413.0 L371.7 410.5 L380.2 409.6 L386.9 412.2 L393.6 407.9 L398.7 407.1 L405.5 418.9 L402.1 425.6 L401.2 432.4 L403.8 436.6 L412.2 437.5 L408.8 444.2 L404.6 449.3 L400.4 454.3 L397.9 459.4 L397.0 466.1 L395.3 472.9 L392.0 479.6 L386.9 481.3 L380.2 477.9 L374.3 474.6 L336.3 474.6 L336.3 408.8 Z" fill="#ffc8bd"/>
<path d="M371.7 425.6 L381.8 422.3 L392.0 424.0 L397.0 432.4 L395.3 440.8 L390.3 449.3 L383.5 454.3 L376.8 452.6 L371.7 444.2 L370.0 434.1 Z" fill="#ffa898"/>
<path d="M336.3 403.7 L353.2 402.0 L349.8 408.8 L354.9 420.6 L359.9 434.1 L363.3 444.2 L336.3 444.2 Z" fill="#ffa898"/>
<path d="M380.2 368.3 L417.3 368.3 L416.4 380.1 L417.3 390.2 L415.6 400.4 L416.9 412.2 L412.2 418.9 L405.5 418.9 L398.7 407.1 L393.6 407.9 L386.9 412.2 L380.2 409.6 L371.7 410.5 L363.3 413.0 L354.9 412.2 L353.2 403.7 L358.2 397.0 L366.7 391.9 L371.7 385.2 L376.8 376.7 Z" fill="#dce2ff"/>
<path d="M385.2 370.0 L405.5 370.0 L412.2 380.1 L410.5 390.2 L405.5 397.0 L397.0 400.4 L388.6 398.7 L383.5 390.2 L382.7 380.1 Z" fill="#b9c5fd"/>
<path d="M375.9 370.0 L382.7 370.0 L382.2 380.1 L381.0 390.2 L377.6 400.4 L371.7 405.4 L363.3 409.6 L358.2 407.9 L363.3 400.4 L370.0 393.6 L373.4 383.5 Z" fill="#ffffff"/>
<path d="M420.6 417.2 L425.7 408.8 L432.4 405.4 L440.9 407.1 L447.6 410.5 L454.4 408.8 L456.0 413.8 L451.0 420.6 L447.6 427.3 L439.2 429.0 L432.4 427.3 L425.7 430.7 L420.6 427.3 Z" fill="#b9c5fd"/>
<path d="M413.9 380.1 L422.3 376.7 L432.4 380.1 L439.2 386.9 L445.9 390.2 L449.3 397.0 L442.6 402.0 L434.1 400.4 L425.7 395.3 L417.3 390.2 Z" fill="#b9c5fd"/>
<path d="M454.4 376.7 L462.8 373.4 L470.4 378.4 L471.2 386.9 L467.8 395.3 L462.8 402.0 L456.0 403.7 L452.7 395.3 L453.5 385.2 Z" fill="#ffffff"/>
<path d="M456.0 375.1 L462.8 372.5 L468.7 375.9 L467.8 381.0 L461.1 381.8 L456.9 380.1 Z" fill="#ffc8bd"/>
<path d="M445.9 410.5 L444.6 411.9 L441.3 412.7 L437.1 412.7 L433.7 411.9 L432.4 410.5 L433.7 409.1 L437.1 408.2 L441.3 408.2 L444.6 409.1 Z" fill="#ffc8bd"/>
<path d="M415.6 437.5 L425.7 434.1 L435.8 435.8 L442.6 440.8 L439.2 447.6 L429.1 449.3 L418.9 445.9 Z" fill="#ffffff"/>
<path d="M412.2 491.4 L422.3 488.0 L432.4 493.1 L434.1 503.2 L429.1 506.6 L420.6 503.2 L413.9 498.2 Z" fill="#ffffff"/>
<path d="M446.8 484.7 L445.8 487.4 L443.3 489.2 L440.1 489.2 L437.6 487.4 L436.7 484.7 L437.6 481.9 L440.1 480.2 L443.3 480.2 L445.8 481.9 Z" fill="#ffffff"/>
<path d="M469.5 390.2 L479.7 386.9 L486.4 391.9 L484.7 403.7 L478.0 413.8 L469.5 420.6 L462.8 422.3 L461.1 413.8 L464.5 402.0 Z" fill="#b9c5fd"/>
<path d="M493.1 390.2 L499.9 391.9 L506.6 393.6 L515.1 392.8 L520.1 397.0 L526.9 398.7 L533.6 401.2 L538.7 406.3 L541.2 413.0 L539.5 417.2 L535.3 420.6 L531.9 427.3 L529.4 434.1 L526.9 440.8 L525.2 447.6 L520.1 450.9 L515.1 456.0 L511.7 461.1 L506.6 465.3 L499.9 467.5 L493.1 467.8 L486.4 469.5 L479.7 470.3 L472.9 469.5 L467.8 471.2 L462.8 474.6 L456.0 477.9 L449.3 482.1 L445.9 483.0 L443.4 477.9 L441.7 471.2 L443.4 464.4 L445.9 457.7 L449.3 450.9 L454.4 444.2 L459.4 440.0 L466.2 437.5 L471.2 434.9 L472.9 429.0 L478.0 424.0 L483.0 417.2 L487.2 410.5 L488.9 403.7 L487.2 398.7 L489.8 393.6 Z" fill="#b9c5fd"/>
<path d="M489.8 412.2 L498.2 408.8 L506.6 412.2 L515.1 418.9 L520.1 425.6 L516.8 434.1 L510.0 440.8 L503.3 447.6 L496.5 444.2 L493.1 437.5 L489.8 429.0 L486.4 420.6 Z" fill="#dce2ff"/>
<path d="M515.1 422.3 L513.8 425.7 L510.4 427.9 L506.2 427.9 L502.9 425.7 L501.6 422.3 L502.9 418.8 L506.2 416.7 L510.4 416.7 L513.8 418.8 Z" fill="#ffffff"/>
<path d="M504.6 439.1 L503.7 441.3 L501.3 442.7 L498.4 442.7 L496.1 441.3 L495.2 439.1 L496.1 437.0 L498.4 435.6 L501.3 435.6 L503.7 437.0 Z" fill="#ffffff"/>
<path d="M456.0 449.3 L462.8 444.2 L469.5 440.8 L472.9 444.2 L466.2 450.9 L459.4 456.0 Z" fill="#ffffff"/>
<path d="M478.0 457.7 L486.4 454.3 L496.5 457.7 L506.6 459.4 L513.4 457.7 L515.1 462.7 L506.6 467.0 L496.5 468.7 L486.4 467.8 L479.7 464.4 Z" fill="#95a8fa"/>
<path d="M445.9 464.4 L452.7 461.1 L459.4 464.4 L456.0 472.9 L449.3 477.9 L445.1 474.6 Z" fill="#95a8fa"/>
<path d="M513.7 457.7 L513.0 460.2 L511.2 461.7 L508.9 461.7 L507.0 460.2 L506.3 457.7 L507.0 455.2 L508.9 453.7 L511.2 453.7 L513.0 455.2 Z" fill="#294df8"/>
<path d="M499.0 454.3 L504.1 448.4 L508.3 451.8 L504.1 459.4 Z" fill="#ff8a72"/>
<path d="M445.9 483.8 L452.7 479.6 L459.4 476.2 L466.2 472.9 L472.9 471.2 L483.0 471.2 L489.8 472.9 L491.5 476.2 L483.0 477.9 L472.9 477.9 L466.2 479.6 L459.4 483.0 L452.7 486.4 L447.6 488.0 Z" fill="#ffc8bd"/>
<path d="M471.2 435.8 L474.6 429.0 L479.7 422.3 L484.7 418.9 L486.4 422.3 L481.3 429.0 L478.0 435.8 L473.8 437.5 Z" fill="#ffc8bd"/>
<path d="M514.2 395.3 L520.1 393.6 L526.9 398.7 L530.2 403.7 L525.2 406.3 L518.4 402.9 Z" fill="#ff8a72"/>
<path d="M531.4 411.3 L530.7 414.3 L528.9 416.1 L526.6 416.1 L524.7 414.3 L524.0 411.3 L524.7 408.3 L526.6 406.5 L528.9 406.5 L530.7 408.3 Z" fill="#ffc8bd"/>
<path d="M527.7 437.5 L527.1 439.4 L525.4 440.7 L523.3 440.7 L521.6 439.4 L521.0 437.5 L521.6 435.5 L523.3 434.2 L525.4 434.2 L527.1 435.5 Z" fill="#ffc8bd"/>
<path d="M455.2 457.7 L454.7 459.2 L453.5 460.1 L451.9 460.1 L450.6 459.2 L450.1 457.7 L450.6 456.2 L451.9 455.3 L453.5 455.3 L454.7 456.2 Z" fill="#ffc8bd"/>
<path d="M506.6 375.1 L515.1 375.1 L515.9 383.5 L507.5 383.5 Z" fill="#7189f9"/>
<path d="M503.3 376.7 L507.1 376.7 L507.1 386.0 L503.3 386.0 Z" fill="#ff8a72"/>
<path d="M508.3 384.3 L518.4 384.3 L518.4 388.5 L508.3 388.5 Z" fill="#ffc8bd"/>
<path d="M481.3 373.4 L489.8 371.7 L499.9 375.1 L498.2 383.5 L489.8 385.2 L483.0 381.8 Z" fill="#ffffff"/>
<path d="M531.9 400.4 L538.7 402.0 L542.0 412.2 L538.7 417.2 L533.6 413.8 L530.2 407.1 Z" fill="#95a8fa"/>
<path d="M500.7 486.4 L506.6 483.8 L513.4 486.4 L521.0 488.0 L521.5 494.8 L515.1 499.0 L508.3 499.8 L503.3 495.6 L500.2 491.4 Z" fill="#b9c5fd"/>
<path d="M533.6 420.6 L555.5 418.9 L555.5 450.9 L545.4 452.6 L537.0 449.3 L530.2 440.8 L530.2 430.7 Z" fill="#b9c5fd"/>
<path d="M537.0 454.3 L545.4 452.6 L548.8 464.4 L547.1 477.9 L540.4 481.3 L535.3 471.2 Z" fill="#ffffff"/>
<path d="M535.3 526.8 L555.5 526.8 L555.5 577.4 L538.7 577.4 L531.9 572.4 L516.8 569.0 L517.6 558.9 L523.5 552.1 L528.6 547.1 L531.9 538.6 Z" fill="#ffe4de"/>
<path d="M519.3 557.2 L525.2 553.0 L531.1 553.8 L530.2 560.6 L525.2 565.6 L520.1 563.9 Z" fill="#ffa898"/>
<path d="M545.1 542.8 L544.5 546.3 L543.0 548.5 L541.1 548.5 L539.6 546.3 L539.0 542.8 L539.6 539.4 L541.1 537.2 L543.0 537.2 L544.5 539.4 Z" fill="#ffc8bd"/>
<path d="M545.4 552.1 L555.5 552.1 L555.5 575.7 L545.4 575.7 Z" fill="#ffc8bd"/>
<path d="M540.7 562.2 L540.0 566.2 L538.1 568.7 L535.8 568.7 L534.0 566.2 L533.3 562.2 L534.0 558.3 L535.8 555.8 L538.1 555.8 L540.0 558.3 Z" fill="#ffffff"/>
<path d="M624.9 368.3 L766.5 368.3 L766.5 587.5 L547.3 587.5 L547.3 577.4 L555.7 576.6 L564.2 570.7 L567.5 563.9 L574.3 558.9 L579.4 555.5 L578.5 548.8 L576.0 542.0 L581.0 535.3 L576.0 528.5 L569.2 533.6 L565.9 526.8 L564.2 516.7 L567.5 508.3 L572.6 501.5 L576.8 493.1 L578.5 484.7 L581.9 474.6 L586.1 466.1 L591.2 459.4 L597.9 456.8 L604.6 458.5 L613.1 457.4 L619.8 456.8 L624.9 459.4 L626.6 464.4 L623.2 471.2 L628.3 477.9 L631.6 471.2 L633.3 461.1 L635.8 452.6 L636.7 444.2 L640.1 435.8 L642.6 425.6 L646.0 418.9 L648.5 412.2 L643.4 408.8 L638.4 405.4 L635.0 400.4 L637.5 395.3 L638.4 388.5 L635.8 381.8 L631.6 376.7 L627.4 373.4 Z" fill="#ffc8bd"/>
<path d="M597.9 486.4 L603.0 484.7 L604.6 491.4 L603.0 501.5 L606.3 510.0 L611.4 515.0 L619.8 508.3 L624.0 510.0 L616.5 516.7 L613.9 523.5 L618.1 526.8 L616.5 535.3 L614.8 542.0 L608.0 545.4 L599.6 547.1 L596.2 540.3 L598.7 530.2 L599.6 520.1 L595.4 511.7 L593.7 503.2 L595.4 493.1 Z" fill="#ffffff"/>
<path d="M705.8 368.3 L709.2 380.1 L713.4 390.2 L715.1 400.4 L710.9 410.5 L705.8 420.6 L700.8 430.7 L694.0 440.8 L687.3 447.6 L680.5 454.3 L673.8 457.7 L667.0 461.1 L660.3 467.8 L653.6 474.6 L646.8 481.3 L640.1 488.0 L635.0 494.8 L629.9 499.8 L626.6 506.6 L623.2 513.3 L621.5 521.8 L621.5 530.2 L618.1 538.6 L613.1 545.4 L604.6 548.8 L596.2 553.8 L587.8 555.5 L581.0 557.2 L574.3 560.6 L567.5 565.6 L564.2 572.4 L559.1 576.6 L554.1 578.3 L554.1 587.5 L766.5 587.5 L766.5 368.3 Z" fill="#ffa898"/>
<path d="M731.1 420.6 L741.2 417.2 L748.0 424.0 L746.3 437.5 L739.6 449.3 L732.8 461.1 L726.1 464.4 L724.4 454.3 L727.8 440.8 L729.4 429.0 Z" fill="#ffc8bd"/>
<path d="M635.0 501.5 L643.4 498.2 L651.9 503.2 L656.9 513.3 L653.6 521.8 L645.1 518.4 L638.4 513.3 Z" fill="#ffc8bd"/>
<path d="M677.2 461.1 L687.3 457.7 L692.3 464.4 L689.0 472.9 L680.5 471.2 Z" fill="#ffc8bd"/>
<path d="M738.7 375.9 L737.9 377.9 L735.8 379.1 L733.2 379.1 L731.1 377.9 L730.3 375.9 L731.1 373.9 L733.2 372.7 L735.8 372.7 L737.9 373.9 Z" fill="#ffffff"/>
<path d="M755.7 375.9 L755.2 378.4 L753.6 379.9 L751.8 379.9 L750.3 378.4 L749.7 375.9 L750.3 373.4 L751.8 371.9 L753.6 371.9 L755.2 373.4 Z" fill="#b9c5fd"/>
<path d="M746.8 389.4 L746.2 391.6 L744.7 392.9 L742.8 392.9 L741.3 391.6 L740.7 389.4 L741.3 387.2 L742.8 385.9 L744.7 385.9 L746.2 387.2 Z" fill="#ff8a72"/>
<path d="M636.7 368.3 L653.6 368.3 L656.9 375.1 L650.2 380.1 L641.7 378.4 Z" fill="#ffa898"/>
<path d="M643.4 434.1 L653.6 430.7 L663.7 434.1 L667.0 442.5 L660.3 449.3 L650.2 450.9 L643.4 444.2 Z" fill="#ffa898"/>
<path d="M683.9 385.2 L690.7 383.5 L694.0 391.9 L692.3 403.7 L687.3 412.2 L682.2 413.8 L678.8 407.1 L680.5 395.3 Z" fill="#ffe4de"/>
<path d="M688.5 403.7 L688.1 407.2 L687.1 409.3 L685.8 409.3 L684.8 407.2 L684.4 403.7 L684.8 400.3 L685.8 398.1 L687.1 398.1 L688.1 400.3 Z" fill="#ffffff"/>
<path d="M547.3 521.8 L559.1 525.1 L565.9 530.2 L569.2 535.3 L576.0 530.2 L580.2 536.1 L576.0 542.0 L578.5 548.8 L579.4 555.5 L574.3 559.7 L567.5 563.9 L564.2 570.7 L555.7 576.6 L547.3 577.4 Z" fill="#ffe4de"/>
<path d="M565.5 563.9 L564.3 568.1 L561.1 570.7 L557.1 570.7 L553.9 568.1 L552.7 563.9 L553.9 559.8 L557.1 557.2 L561.1 557.2 L564.3 559.8 Z" fill="#ffffff"/>
<path d="M587.8 469.5 L599.6 466.1 L613.1 464.4 L621.5 471.2 L616.5 477.9 L608.0 481.3 L604.6 488.0 L597.9 486.4 L592.8 491.4 L586.1 498.2 L579.4 504.9 L574.3 503.2 L577.7 493.1 L581.0 481.3 Z" fill="#ffb9ab"/>
<path d="M547.3 368.3 L624.9 368.3 L627.4 373.4 L631.6 376.7 L635.8 381.8 L638.4 388.5 L637.5 395.3 L635.0 400.4 L638.4 405.4 L640.1 410.5 L633.3 413.8 L626.6 408.8 L621.5 403.7 L616.5 398.7 L609.7 397.0 L603.0 398.7 L596.2 403.7 L589.5 410.5 L582.7 415.5 L576.0 418.9 L569.2 417.2 L562.5 418.9 L555.7 420.6 L547.3 420.6 Z" fill="#b9c5fd"/>
<path d="M547.3 420.6 L555.7 420.6 L562.5 418.9 L569.2 417.2 L576.0 418.9 L582.7 415.5 L589.5 410.5 L596.2 403.7 L603.0 398.7 L609.7 397.0 L616.5 398.7 L621.5 403.7 L626.6 408.8 L633.3 413.8 L640.1 410.5 L643.4 408.8 L648.5 412.2 L646.0 418.9 L642.6 425.6 L640.1 435.8 L636.7 444.2 L635.8 452.6 L633.3 457.7 L626.6 450.9 L619.8 445.9 L613.1 442.5 L609.7 437.5 L608.0 430.7 L599.6 425.6 L592.8 420.6 L586.1 418.9 L582.7 424.0 L584.4 432.4 L581.0 437.5 L574.3 440.8 L569.2 444.2 L562.5 445.9 L555.7 444.2 L547.3 444.2 Z" fill="#dce2ff"/>
<path d="M547.3 444.2 L555.7 444.2 L562.5 445.9 L569.2 444.2 L574.3 440.8 L577.7 445.9 L574.3 454.3 L565.9 459.4 L560.8 464.4 L564.2 471.2 L572.6 474.6 L581.0 471.2 L582.7 477.9 L578.5 486.4 L576.0 494.8 L570.9 501.5 L564.2 503.2 L555.7 501.5 L547.3 499.8 Z" fill="#dce2ff"/>
<path d="M589.5 368.3 L624.9 368.3 L628.3 375.1 L623.2 383.5 L616.5 386.9 L606.3 385.2 L596.2 380.1 Z" fill="#dce2ff"/>
<path d="M561.6 422.3 L567.5 417.2 L574.3 418.1 L576.0 425.6 L570.9 434.1 L565.9 434.9 L562.5 429.0 Z" fill="#7189f9"/>
<path d="M612.2 398.7 L615.6 397.8 L618.1 407.1 L623.2 418.9 L631.6 425.6 L629.9 429.9 L623.2 429.0 L618.1 422.3 L613.9 412.2 Z" fill="#95a8fa"/>
<path d="M628.3 424.3 L627.5 426.1 L625.3 427.2 L622.7 427.2 L620.6 426.1 L619.8 424.3 L620.6 422.5 L622.7 421.4 L625.3 421.4 L627.5 422.5 Z" fill="#7189f9"/>
<path d="M631.6 400.4 L640.1 403.7 L646.8 410.5 L643.4 415.5 L636.7 412.2 L632.5 407.1 Z" fill="#b9c5fd"/>
<path d="M582.7 471.2 L587.8 464.4 L592.8 461.1 L591.2 471.2 L586.9 481.3 L582.7 488.0 L579.4 486.4 Z" fill="#ffffff"/>
<path d="M576.0 515.0 L575.0 519.0 L572.5 521.4 L569.4 521.4 L566.8 519.0 L565.9 515.0 L566.8 511.1 L569.4 508.6 L572.5 508.6 L575.0 511.1 Z" fill="#b9c5fd"/>
<path d="M572.6 515.9 L572.1 517.9 L570.9 519.1 L569.3 519.1 L568.0 517.9 L567.5 515.9 L568.0 513.9 L569.3 512.7 L570.9 512.7 L572.1 513.9 Z" fill="#95a8fa"/>
<path d="M618.1 469.5 L623.2 464.4 L628.3 457.7 L633.3 461.1 L632.5 471.2 L629.9 477.9 L625.7 479.6 L621.5 474.6 Z" fill="#dce2ff"/>
<path d="M565.9 521.8 L572.6 518.4 L581.0 521.8 L584.4 513.3 L587.8 504.9 L591.2 508.3 L589.5 518.4 L582.7 526.8 L574.3 530.2 L567.5 528.5 Z" fill="#ffffff"/>
<path d="M370.9 351.7 L395.1 353.9 L414.9 356.1 L436.8 353.9 L436.8 367.1 L432.4 375.9 L425.8 380.3 L421.5 375.9 L417.1 372.6 L413.8 368.2 L409.4 364.9 L403.9 362.2 L398.4 360.5 L391.8 361.1 L386.3 363.8 L382.5 367.1 L379.7 371.5 L374.2 375.9 L370.9 380.3 L366.5 386.9 L364.4 380.3 L366.5 367.1 Z" fill="#ffc8bd"/>
<path d="M390.7 353.9 L403.9 352.8 L421.5 353.9 L434.6 356.1 L432.4 361.6 L421.5 362.7 L414.9 364.9 L409.4 362.7 L403.9 360.0 L397.3 358.9 L391.8 358.3 Z" fill="#ffe4de"/>
<path d="M423.6 358.3 L432.4 357.2 L436.8 361.6 L434.6 367.1 L428.0 369.3 L422.6 367.1 L419.3 362.7 Z" fill="#ffffff"/>
<path d="M382.5 367.1 L386.3 363.8 L391.8 361.1 L398.4 360.5 L403.9 362.2 L409.4 364.9 L413.8 368.2 L417.1 372.6 L421.5 375.9 L425.8 380.3 L428.0 386.9 L423.6 393.5 L419.3 397.8 L414.9 401.1 L408.3 403.3 L402.8 404.4 L397.3 405.5 L392.9 407.2 L388.5 410.5 L384.1 412.1 L379.7 411.6 L375.9 408.8 L373.1 404.4 L373.7 397.8 L374.8 391.3 L376.4 385.8 L379.2 380.3 L381.9 374.8 L383.0 370.4 Z" fill="#b9c5fd"/>
<path d="M399.5 373.7 L406.1 371.5 L410.5 375.9 L409.4 382.5 L403.9 385.8 L400.0 381.4 Z" fill="#dce2ff"/>
<path d="M384.1 375.9 L389.6 371.5 L395.1 375.9 L390.7 384.7 L385.2 393.5 L380.8 397.8 L378.6 391.3 L380.8 382.5 Z" fill="#dce2ff"/>
<path d="M374.2 375.9 L379.7 371.5 L381.9 374.8 L379.2 380.3 L376.4 385.8 L374.8 391.3 L373.7 397.8 L370.9 396.7 L371.5 389.1 L372.6 381.4 Z" fill="#ffffff"/>
<path d="M354.5 406.6 L357.8 402.2 L363.3 398.9 L368.7 397.3 L372.0 397.8 L373.1 403.3 L369.8 406.6 L364.4 408.8 L358.9 410.5 Z" fill="#ffffff"/>
<path d="M363.3 403.3 L369.8 401.1 L372.0 404.4 L367.6 407.2 Z" fill="#dce2ff"/>
<path d="M375.3 408.8 L379.7 411.6 L384.1 412.1 L388.5 410.5 L392.9 407.2 L399.5 406.6 L403.9 408.8 L399.5 413.2 L390.7 415.4 L381.9 416.0 L376.4 413.2 Z" fill="#ffffff"/>
<path d="M436.8 351.7 L447.8 348.4 L458.8 351.7 L478.0 351.7 L478.0 371.5 L469.8 369.3 L458.8 367.1 L452.2 371.5 L447.8 378.1 L443.4 384.7 L436.8 386.9 L432.4 382.5 L434.6 375.9 L436.8 367.1 Z" fill="#b9c5fd"/>
<path d="M454.4 372.6 L463.2 370.9 L469.8 374.8 L468.7 382.5 L462.1 386.9 L456.6 384.7 L453.3 378.1 Z" fill="#ffc8bd"/>
<path d="M436.8 386.9 L447.8 384.7 L453.3 389.1 L452.2 397.8 L445.6 402.2 L436.8 400.0 Z" fill="#dce2ff"/>
<path d="M414.9 378.1 L421.5 377.0 L428.0 380.3 L425.8 383.6 L419.3 382.5 Z" fill="#ffc8bd"/>
<path d="M414.9 380.3 L418.2 386.9 L422.6 391.3 L425.8 386.9 L423.6 382.5 L419.3 381.4 Z" fill="#ffffff"/>
<path d="M511.4 360.3 L507.6 340.2 L511.4 321.4 L522.7 306.3 L540.3 297.5 L557.8 296.3 L576.7 301.3 L590.5 312.6 L598.0 327.6 L600.5 346.5 L601.8 365.3 L600.5 385.4 L595.5 402.9 L582.9 415.5 L567.9 420.5 L557.8 415.5 L550.3 420.5 L545.3 415.5 L540.3 408.0 L537.8 400.4 L530.2 390.4 L522.7 385.4 L517.7 377.8 L512.7 370.3 Z" fill="#b9c5fd"/>
<path d="M521.4 322.6 L525.2 315.1 L535.3 302.5 L550.3 297.5 L565.4 298.8 L580.4 302.5 L589.2 310.1 L595.5 321.4 L603.0 327.6 L606.8 336.4 L600.5 342.7 L594.2 340.2 L589.2 332.7 L580.4 336.4 L572.9 337.7 L567.9 344.0 L557.8 349.0 L556.6 357.8 L551.6 364.0 L545.3 360.3 L540.3 355.3 L532.7 357.8 L530.2 352.7 L537.8 349.0 L545.3 345.2 L546.5 331.4 L545.3 326.4 L535.3 325.1 L525.2 327.6 Z" fill="#dce2ff"/>
<path d="M595.5 365.3 L603.0 360.3 L614.3 357.8 L624.3 365.3 L630.0 377.8 L630.0 402.9 L620.6 400.4 L614.3 402.9 L608.0 397.9 L601.8 387.9 L600.5 377.8 Z" fill="#dce2ff"/>
<path d="M529.0 382.9 L537.8 380.4 L544.0 387.9 L545.3 395.4 L540.3 392.9 L532.7 389.1 Z" fill="#dce2ff"/>
<path d="M595.5 366.5 L600.5 361.5 L606.8 357.8 L609.3 361.5 L605.5 367.8 L600.5 370.9 L596.1 370.3 Z" fill="#95a8fa"/>
<path d="M589.2 307.6 L594.2 311.3 L599.3 315.1 L601.1 318.9 L596.7 320.1 L593.0 316.4 Z" fill="#95a8fa"/>
<path d="M561.6 423.0 L566.6 418.0 L572.9 416.7 L574.2 421.8 L571.6 428.0 L570.4 434.3 L566.6 433.1 L563.5 428.0 Z" fill="#95a8fa"/>
<path d="M531.5 401.7 L535.3 402.9 L538.4 408.0 L541.5 413.0 L540.3 418.0 L535.3 419.3 L531.5 415.5 L530.2 409.2 Z" fill="#95a8fa"/>
<path d="M611.8 399.2 L614.9 397.9 L616.2 405.4 L618.1 413.0 L623.1 420.5 L629.4 425.5 L626.9 429.3 L620.6 426.8 L615.6 419.3 L613.1 409.2 Z" fill="#95a8fa"/>
<use href="#coast"/>
<use href="#grid"/>
</g>
<circle cx="550.55" cy="370.95" r="206.1" fill="none" stroke="#000" stroke-width="1.6"/>
</g>
<text y="151.80" font-size="19.88" xml:space="preserve"><tspan x="343.60" textLength="188.38" lengthAdjust="spacingAndGlyphs">CTL.F20TR.ne30pg2</tspan> <tspan x="537.94" textLength="116.83" lengthAdjust="spacingAndGlyphs">(1981-1995)</tspan></text>
<text x="700.85" y="151.80" font-size="19.88" textLength="55.05" lengthAdjust="spacingAndGlyphs">W/m2</text>
<text y="646.80" font-size="19.88" xml:space="preserve"><tspan x="343.60" textLength="116.81" lengthAdjust="spacingAndGlyphs">CERES-EBAF</tspan> <tspan x="466.37" textLength="40.92" lengthAdjust="spacingAndGlyphs">v4.1</tspan> <tspan x="513.24" textLength="116.83" lengthAdjust="spacingAndGlyphs">(2001-2018)</tspan></text>
<text y="646.80" font-size="19.88" xml:space="preserve"><tspan x="694.44" textLength="18.54" lengthAdjust="spacingAndGlyphs">W</tspan> <tspan x="718.94" textLength="36.96" lengthAdjust="spacingAndGlyphs">m-2</tspan></text>
<text y="1142.00" font-size="25.40" xml:space="preserve"><tspan x="429.84" textLength="71.94" lengthAdjust="spacingAndGlyphs">Model</tspan> <tspan x="509.40" textLength="8.64" lengthAdjust="spacingAndGlyphs">-</tspan> <tspan x="525.66" textLength="145.91" lengthAdjust="spacingAndGlyphs">Observation</tspan></text>
<text x="700.85" y="1141.80" font-size="19.88" textLength="55.05" lengthAdjust="spacingAndGlyphs">W/m2</text>
<text x="791.20" y="162.00" font-size="19.88" textLength="38.77" lengthAdjust="spacingAndGlyphs">Max</text>
<text x="852.19" y="162.00" font-size="19.88" textLength="65.61" lengthAdjust="spacingAndGlyphs">114.20</text>
<text x="791.20" y="183.95" font-size="19.88" textLength="51.09" lengthAdjust="spacingAndGlyphs">Mean</text>
<text x="864.12" y="183.95" font-size="19.88" textLength="53.68" lengthAdjust="spacingAndGlyphs">79.86</text>
<text x="791.20" y="205.90" font-size="19.88" textLength="33.27" lengthAdjust="spacingAndGlyphs">Min</text>
<text x="864.12" y="205.90" font-size="19.88" textLength="53.68" lengthAdjust="spacingAndGlyphs">50.44</text>
<text x="791.20" y="657.00" font-size="19.88" textLength="38.77" lengthAdjust="spacingAndGlyphs">Max</text>
<text x="852.19" y="657.00" font-size="19.88" textLength="65.61" lengthAdjust="spacingAndGlyphs">137.69</text>
<text x="791.20" y="678.95" font-size="19.88" textLength="51.09" lengthAdjust="spacingAndGlyphs">Mean</text>
<text x="864.12" y="678.95" font-size="19.88" textLength="53.68" lengthAdjust="spacingAndGlyphs">79.35</text>
<text x="791.20" y="700.90" font-size="19.88" textLength="33.27" lengthAdjust="spacingAndGlyphs">Min</text>
<text x="864.12" y="700.90" font-size="19.88" textLength="53.68" lengthAdjust="spacingAndGlyphs">53.20</text>
<text x="791.20" y="1152.00" font-size="19.88" textLength="38.77" lengthAdjust="spacingAndGlyphs">Max</text>
<text x="864.12" y="1152.00" font-size="19.88" textLength="53.68" lengthAdjust="spacingAndGlyphs">26.89</text>
<text x="791.20" y="1173.95" font-size="19.88" textLength="51.09" lengthAdjust="spacingAndGlyphs">Mean</text>
<text x="876.05" y="1173.95" font-size="19.88" textLength="41.75" lengthAdjust="spacingAndGlyphs">0.50</text>
<text x="791.20" y="1195.90" font-size="19.88" textLength="33.27" lengthAdjust="spacingAndGlyphs">Min</text>
<text x="857.36" y="1195.90" font-size="19.88" textLength="60.44" lengthAdjust="spacingAndGlyphs">-52.73</text>
<text x="791.20" y="1545.80" font-size="19.88" textLength="52.96" lengthAdjust="spacingAndGlyphs">RMSE</text>
<text x="876.05" y="1545.80" font-size="19.88" textLength="41.75" lengthAdjust="spacingAndGlyphs">7.62</text>
<text x="791.20" y="1567.80" font-size="19.88" textLength="53.91" lengthAdjust="spacingAndGlyphs">CORR</text>
<text x="876.05" y="1567.80" font-size="19.88" textLength="41.75" lengthAdjust="spacingAndGlyphs">0.52</text>
<path d="M790.5 237.4 L811.3 223.6 L832.1 237.4 Z" fill="#ff2a00"/>
<path d="M790.5 505.4 L811.3 519.2 L832.1 505.4 Z" fill="#0030ff"/>
<rect x="790.5" y="236.90" width="41.60" height="27.30" fill="#ff2a00"/>
<rect x="790.5" y="263.80" width="41.60" height="27.30" fill="#ff6a00"/>
<rect x="790.5" y="290.70" width="41.60" height="27.30" fill="#ff9a12"/>
<rect x="790.5" y="317.60" width="41.60" height="27.30" fill="#ffc022"/>
<rect x="790.5" y="344.50" width="41.60" height="27.30" fill="#d4c821"/>
<rect x="790.5" y="371.40" width="41.60" height="27.30" fill="#94b817"/>
<rect x="790.5" y="398.30" width="41.60" height="27.30" fill="#48a810"/>
<rect x="790.5" y="425.20" width="41.60" height="27.30" fill="#3c8862"/>
<rect x="790.5" y="452.10" width="41.60" height="27.30" fill="#0468a2"/>
<rect x="790.5" y="479.00" width="41.60" height="27.30" fill="#0030ff"/>
<path d="M790.5 236.9 L811.3 223.6 L832.1 236.9 L832.1 505.9 L811.3 519.2 L790.5 505.9 Z" fill="none" stroke="#000" stroke-width="1.6" stroke-linejoin="miter"/>
<text x="840.82" y="271.00" font-size="19.88" textLength="53.68" lengthAdjust="spacingAndGlyphs">160.0</text>
<text x="840.82" y="297.90" font-size="19.88" textLength="53.68" lengthAdjust="spacingAndGlyphs">140.0</text>
<text x="840.82" y="324.80" font-size="19.88" textLength="53.68" lengthAdjust="spacingAndGlyphs">120.0</text>
<text x="840.82" y="351.70" font-size="19.88" textLength="53.68" lengthAdjust="spacingAndGlyphs">100.0</text>
<text x="852.75" y="378.60" font-size="19.88" textLength="41.75" lengthAdjust="spacingAndGlyphs">80.0</text>
<text x="852.75" y="405.50" font-size="19.88" textLength="41.75" lengthAdjust="spacingAndGlyphs">60.0</text>
<text x="852.75" y="432.40" font-size="19.88" textLength="41.75" lengthAdjust="spacingAndGlyphs">40.0</text>
<text x="852.75" y="459.30" font-size="19.88" textLength="41.75" lengthAdjust="spacingAndGlyphs">20.0</text>
<text x="864.68" y="486.20" font-size="19.88" textLength="29.82" lengthAdjust="spacingAndGlyphs">0.0</text>
<path d="M790.5 732.4 L811.3 718.6 L832.1 732.4 Z" fill="#ff2a00"/>
<path d="M790.5 1000.4 L811.3 1014.2 L832.1 1000.4 Z" fill="#0030ff"/>
<rect x="790.5" y="731.90" width="41.60" height="27.30" fill="#ff2a00"/>
<rect x="790.5" y="758.80" width="41.60" height="27.30" fill="#ff6a00"/>
<rect x="790.5" y="785.70" width="41.60" height="27.30" fill="#ff9a12"/>
<rect x="790.5" y="812.60" width="41.60" height="27.30" fill="#ffc022"/>
<rect x="790.5" y="839.50" width="41.60" height="27.30" fill="#d4c821"/>
<rect x="790.5" y="866.40" width="41.60" height="27.30" fill="#94b817"/>
<rect x="790.5" y="893.30" width="41.60" height="27.30" fill="#48a810"/>
<rect x="790.5" y="920.20" width="41.60" height="27.30" fill="#3c8862"/>
<rect x="790.5" y="947.10" width="41.60" height="27.30" fill="#0468a2"/>
<rect x="790.5" y="974.00" width="41.60" height="27.30" fill="#0030ff"/>
<path d="M790.5 731.9 L811.3 718.6 L832.1 731.9 L832.1 1000.9 L811.3 1014.2 L790.5 1000.9 Z" fill="none" stroke="#000" stroke-width="1.6" stroke-linejoin="miter"/>
<text x="840.82" y="766.00" font-size="19.88" textLength="53.68" lengthAdjust="spacingAndGlyphs">160.0</text>
<text x="840.82" y="792.90" font-size="19.88" textLength="53.68" lengthAdjust="spacingAndGlyphs">140.0</text>
<text x="840.82" y="819.80" font-size="19.88" textLength="53.68" lengthAdjust="spacingAndGlyphs">120.0</text>
<text x="840.82" y="846.70" font-size="19.88" textLength="53.68" lengthAdjust="spacingAndGlyphs">100.0</text>
<text x="852.75" y="873.60" font-size="19.88" textLength="41.75" lengthAdjust="spacingAndGlyphs">80.0</text>
<text x="852.75" y="900.50" font-size="19.88" textLength="41.75" lengthAdjust="spacingAndGlyphs">60.0</text>
<text x="852.75" y="927.40" font-size="19.88" textLength="41.75" lengthAdjust="spacingAndGlyphs">40.0</text>
<text x="852.75" y="954.30" font-size="19.88" textLength="41.75" lengthAdjust="spacingAndGlyphs">20.0</text>
<text x="864.68" y="981.20" font-size="19.88" textLength="29.82" lengthAdjust="spacingAndGlyphs">0.0</text>
<path d="M790.5 1227.4 L811.3 1213.6 L832.1 1227.4 Z" fill="#ff2a00"/>
<path d="M790.5 1495.4 L811.3 1509.2 L832.1 1495.4 Z" fill="#0030ff"/>
<rect x="790.5" y="1226.90" width="41.60" height="18.33" fill="#ff2a00"/>
<rect x="790.5" y="1244.83" width="41.60" height="18.33" fill="#ff4a26"/>
<rect x="790.5" y="1262.77" width="41.60" height="18.33" fill="#ff6a4c"/>
<rect x="790.5" y="1280.70" width="41.60" height="18.33" fill="#ff8a72"/>
<rect x="790.5" y="1298.63" width="41.60" height="18.33" fill="#ffa898"/>
<rect x="790.5" y="1316.57" width="41.60" height="18.33" fill="#ffc8bd"/>
<rect x="790.5" y="1334.50" width="41.60" height="18.33" fill="#ffe4de"/>
<rect x="790.5" y="1352.43" width="41.60" height="18.33" fill="#ffffff"/>
<rect x="790.5" y="1370.37" width="41.60" height="18.33" fill="#dce2ff"/>
<rect x="790.5" y="1388.30" width="41.60" height="18.33" fill="#b9c5fd"/>
<rect x="790.5" y="1406.23" width="41.60" height="18.33" fill="#95a8fa"/>
<rect x="790.5" y="1424.17" width="41.60" height="18.33" fill="#7189f9"/>
<rect x="790.5" y="1442.10" width="41.60" height="18.33" fill="#4d6bf8"/>
<rect x="790.5" y="1460.03" width="41.60" height="18.33" fill="#294df8"/>
<rect x="790.5" y="1477.97" width="41.60" height="18.33" fill="#0030ff"/>
<path d="M790.5 1226.9 L811.3 1213.6 L832.1 1226.9 L832.1 1495.9 L811.3 1509.2 L790.5 1495.9 Z" fill="none" stroke="#000" stroke-width="1.6" stroke-linejoin="miter"/>
<text x="842.85" y="1252.03" font-size="19.88" textLength="41.75" lengthAdjust="spacingAndGlyphs">50.0</text>
<text x="842.85" y="1269.97" font-size="19.88" textLength="41.75" lengthAdjust="spacingAndGlyphs">40.0</text>
<text x="842.85" y="1287.90" font-size="19.88" textLength="41.75" lengthAdjust="spacingAndGlyphs">30.0</text>
<text x="842.85" y="1305.83" font-size="19.88" textLength="41.75" lengthAdjust="spacingAndGlyphs">20.0</text>
<text x="842.85" y="1323.77" font-size="19.88" textLength="41.75" lengthAdjust="spacingAndGlyphs">10.0</text>
<text x="854.78" y="1341.70" font-size="19.88" textLength="29.82" lengthAdjust="spacingAndGlyphs">5.0</text>
<text x="854.78" y="1359.63" font-size="19.88" textLength="29.82" lengthAdjust="spacingAndGlyphs">2.0</text>
<text x="848.02" y="1377.57" font-size="19.88" textLength="36.58" lengthAdjust="spacingAndGlyphs">-2.0</text>
<text x="848.02" y="1395.50" font-size="19.88" textLength="36.58" lengthAdjust="spacingAndGlyphs">-5.0</text>
<text x="836.09" y="1413.43" font-size="19.88" textLength="48.51" lengthAdjust="spacingAndGlyphs">-10.0</text>
<text x="836.09" y="1431.37" font-size="19.88" textLength="48.51" lengthAdjust="spacingAndGlyphs">-20.0</text>
<text x="836.09" y="1449.30" font-size="19.88" textLength="48.51" lengthAdjust="spacingAndGlyphs">-30.0</text>
<text x="836.09" y="1467.23" font-size="19.88" textLength="48.51" lengthAdjust="spacingAndGlyphs">-40.0</text>
<text x="836.09" y="1485.17" font-size="19.88" textLength="48.51" lengthAdjust="spacingAndGlyphs">-50.0</text>
</svg></body></html>
